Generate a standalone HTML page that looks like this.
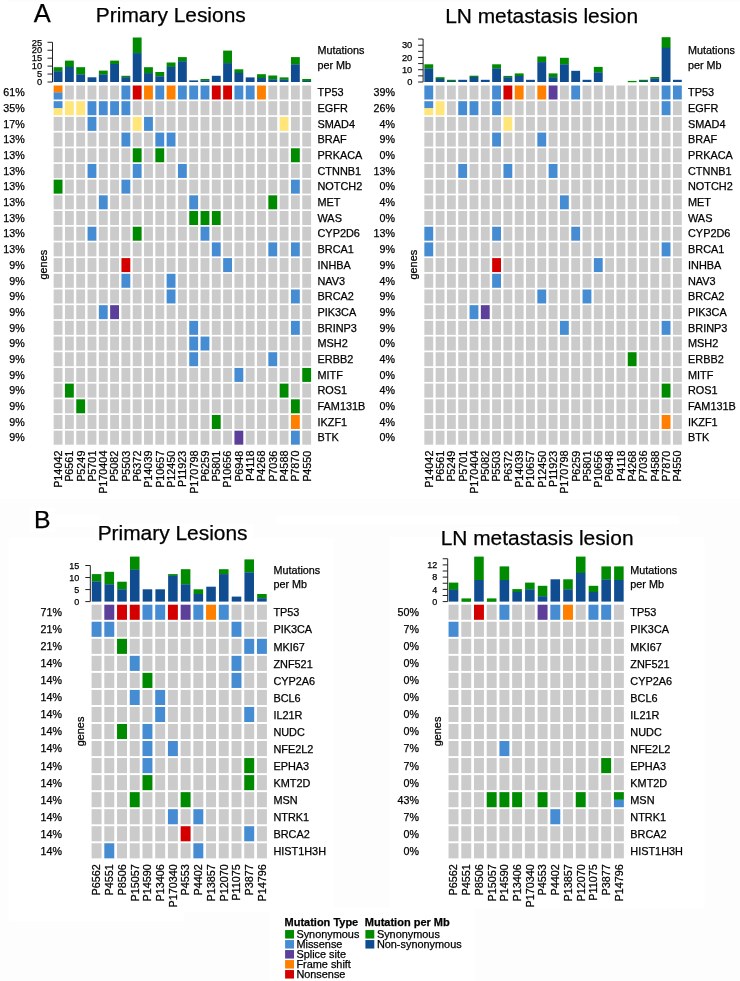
<!DOCTYPE html>
<html lang="en">
<head>
<meta charset="utf-8">
<title>Mutation landscape of primary lesions and LN metastasis lesions</title>
<style>
html,body{margin:0;padding:0;background:#fff;}
body{width:740px;height:981px;overflow:hidden;}
svg{display:block;font-family:"Liberation Sans",Arial,Helvetica,sans-serif;}
text{fill:#000;stroke:#000;stroke-width:0.25px;}
</style>
</head>
<body>
<svg width="740" height="981" viewBox="0 0 740 981">
<rect x="0" y="0" width="740" height="981" fill="#ffffff"/>
<g>
<rect x="0" y="499" width="740" height="482" fill="#fdfdfd"/>
<rect x="9" y="538" width="325" height="374" fill="#ffffff"/>
<rect x="8" y="0" width="732" height="1.5" fill="#fcfcfc"/>
<rect x="9" y="911" width="175" height="10" fill="#ffffff"/>
<rect x="390" y="537" width="314.5" height="371" fill="#ffffff"/>
<rect x="270" y="908" width="205" height="73" fill="#ffffff"/>
<rect x="276" y="515.5" width="403" height="8.5" fill="#ffffff"/>
<rect x="55" y="515" width="45" height="12" fill="#ffffff"/>
<rect x="95" y="524" width="158" height="22" fill="#ffffff"/>
<rect x="460" y="527" width="160" height="22" fill="#ffffff"/>
<rect x="30" y="508" width="25" height="24" fill="#ffffff"/>
</g>
<g>
<rect x="53.65" y="85.5" width="8.85" height="7.2" fill="#ff7f00"/>
<rect x="53.65" y="92.5" width="8.85" height="7" fill="#468cd2"/>
<rect x="64.95" y="85.5" width="8.85" height="14" fill="#cbcbcb"/>
<rect x="76.25" y="85.5" width="8.85" height="14" fill="#cbcbcb"/>
<rect x="87.55" y="85.5" width="8.85" height="14" fill="#cbcbcb"/>
<rect x="98.85" y="85.5" width="8.85" height="14" fill="#cbcbcb"/>
<rect x="110.15" y="85.5" width="8.85" height="14" fill="#cbcbcb"/>
<rect x="121.45" y="85.5" width="8.85" height="14" fill="#468cd2"/>
<rect x="132.75" y="85.5" width="8.85" height="14" fill="#d40000"/>
<rect x="144.05" y="85.5" width="8.85" height="14" fill="#ff7f00"/>
<rect x="155.35" y="85.5" width="8.85" height="14" fill="#468cd2"/>
<rect x="166.65" y="85.5" width="8.85" height="14" fill="#ff7f00"/>
<rect x="177.95" y="85.5" width="8.85" height="14" fill="#468cd2"/>
<rect x="189.25" y="85.5" width="8.85" height="14" fill="#468cd2"/>
<rect x="200.55" y="85.5" width="8.85" height="14" fill="#468cd2"/>
<rect x="211.85" y="85.5" width="8.85" height="14" fill="#d40000"/>
<rect x="223.15" y="85.5" width="8.85" height="14" fill="#d40000"/>
<rect x="234.45" y="85.5" width="8.85" height="14" fill="#468cd2"/>
<rect x="245.75" y="85.5" width="8.85" height="14" fill="#468cd2"/>
<rect x="257.05" y="85.5" width="8.85" height="14" fill="#ff7f00"/>
<rect x="268.35" y="85.5" width="8.85" height="14" fill="#cbcbcb"/>
<rect x="279.65" y="85.5" width="8.85" height="14" fill="#cbcbcb"/>
<rect x="290.95" y="85.5" width="8.85" height="14" fill="#cbcbcb"/>
<rect x="302.25" y="85.5" width="8.85" height="14" fill="#cbcbcb"/>
<rect x="53.65" y="101.19" width="8.85" height="7.2" fill="#468cd2"/>
<rect x="53.65" y="108.19" width="8.85" height="7" fill="#ffe57a"/>
<rect x="64.95" y="101.19" width="8.85" height="14" fill="#ffe57a"/>
<rect x="76.25" y="101.19" width="8.85" height="14" fill="#ffe57a"/>
<rect x="87.55" y="101.19" width="8.85" height="14" fill="#468cd2"/>
<rect x="98.85" y="101.19" width="8.85" height="14" fill="#468cd2"/>
<rect x="110.15" y="101.19" width="8.85" height="14" fill="#468cd2"/>
<rect x="121.45" y="101.19" width="8.85" height="14" fill="#468cd2"/>
<rect x="132.75" y="101.19" width="8.85" height="14" fill="#cbcbcb"/>
<rect x="144.05" y="101.19" width="8.85" height="14" fill="#cbcbcb"/>
<rect x="155.35" y="101.19" width="8.85" height="14" fill="#cbcbcb"/>
<rect x="166.65" y="101.19" width="8.85" height="14" fill="#cbcbcb"/>
<rect x="177.95" y="101.19" width="8.85" height="14" fill="#cbcbcb"/>
<rect x="189.25" y="101.19" width="8.85" height="14" fill="#cbcbcb"/>
<rect x="200.55" y="101.19" width="8.85" height="14" fill="#cbcbcb"/>
<rect x="211.85" y="101.19" width="8.85" height="14" fill="#cbcbcb"/>
<rect x="223.15" y="101.19" width="8.85" height="14" fill="#cbcbcb"/>
<rect x="234.45" y="101.19" width="8.85" height="14" fill="#cbcbcb"/>
<rect x="245.75" y="101.19" width="8.85" height="14" fill="#cbcbcb"/>
<rect x="257.05" y="101.19" width="8.85" height="14" fill="#cbcbcb"/>
<rect x="268.35" y="101.19" width="8.85" height="14" fill="#cbcbcb"/>
<rect x="279.65" y="101.19" width="8.85" height="14" fill="#cbcbcb"/>
<rect x="290.95" y="101.19" width="8.85" height="14" fill="#cbcbcb"/>
<rect x="302.25" y="101.19" width="8.85" height="14" fill="#cbcbcb"/>
<rect x="53.65" y="116.88" width="8.85" height="14" fill="#cbcbcb"/>
<rect x="64.95" y="116.88" width="8.85" height="14" fill="#cbcbcb"/>
<rect x="76.25" y="116.88" width="8.85" height="14" fill="#cbcbcb"/>
<rect x="87.55" y="116.88" width="8.85" height="14" fill="#468cd2"/>
<rect x="98.85" y="116.88" width="8.85" height="14" fill="#cbcbcb"/>
<rect x="110.15" y="116.88" width="8.85" height="14" fill="#cbcbcb"/>
<rect x="121.45" y="116.88" width="8.85" height="14" fill="#cbcbcb"/>
<rect x="132.75" y="116.88" width="8.85" height="14" fill="#ffe57a"/>
<rect x="144.05" y="116.88" width="8.85" height="14" fill="#468cd2"/>
<rect x="155.35" y="116.88" width="8.85" height="14" fill="#cbcbcb"/>
<rect x="166.65" y="116.88" width="8.85" height="14" fill="#cbcbcb"/>
<rect x="177.95" y="116.88" width="8.85" height="14" fill="#cbcbcb"/>
<rect x="189.25" y="116.88" width="8.85" height="14" fill="#cbcbcb"/>
<rect x="200.55" y="116.88" width="8.85" height="14" fill="#cbcbcb"/>
<rect x="211.85" y="116.88" width="8.85" height="14" fill="#cbcbcb"/>
<rect x="223.15" y="116.88" width="8.85" height="14" fill="#cbcbcb"/>
<rect x="234.45" y="116.88" width="8.85" height="14" fill="#cbcbcb"/>
<rect x="245.75" y="116.88" width="8.85" height="14" fill="#cbcbcb"/>
<rect x="257.05" y="116.88" width="8.85" height="14" fill="#cbcbcb"/>
<rect x="268.35" y="116.88" width="8.85" height="14" fill="#cbcbcb"/>
<rect x="279.65" y="116.88" width="8.85" height="14" fill="#ffe57a"/>
<rect x="290.95" y="116.88" width="8.85" height="14" fill="#cbcbcb"/>
<rect x="302.25" y="116.88" width="8.85" height="14" fill="#cbcbcb"/>
<rect x="53.65" y="132.57" width="8.85" height="14" fill="#cbcbcb"/>
<rect x="64.95" y="132.57" width="8.85" height="14" fill="#cbcbcb"/>
<rect x="76.25" y="132.57" width="8.85" height="14" fill="#cbcbcb"/>
<rect x="87.55" y="132.57" width="8.85" height="14" fill="#cbcbcb"/>
<rect x="98.85" y="132.57" width="8.85" height="14" fill="#cbcbcb"/>
<rect x="110.15" y="132.57" width="8.85" height="14" fill="#cbcbcb"/>
<rect x="121.45" y="132.57" width="8.85" height="14" fill="#468cd2"/>
<rect x="132.75" y="132.57" width="8.85" height="14" fill="#cbcbcb"/>
<rect x="144.05" y="132.57" width="8.85" height="14" fill="#cbcbcb"/>
<rect x="155.35" y="132.57" width="8.85" height="14" fill="#468cd2"/>
<rect x="166.65" y="132.57" width="8.85" height="14" fill="#468cd2"/>
<rect x="177.95" y="132.57" width="8.85" height="14" fill="#cbcbcb"/>
<rect x="189.25" y="132.57" width="8.85" height="14" fill="#cbcbcb"/>
<rect x="200.55" y="132.57" width="8.85" height="14" fill="#cbcbcb"/>
<rect x="211.85" y="132.57" width="8.85" height="14" fill="#cbcbcb"/>
<rect x="223.15" y="132.57" width="8.85" height="14" fill="#cbcbcb"/>
<rect x="234.45" y="132.57" width="8.85" height="14" fill="#cbcbcb"/>
<rect x="245.75" y="132.57" width="8.85" height="14" fill="#cbcbcb"/>
<rect x="257.05" y="132.57" width="8.85" height="14" fill="#cbcbcb"/>
<rect x="268.35" y="132.57" width="8.85" height="14" fill="#cbcbcb"/>
<rect x="279.65" y="132.57" width="8.85" height="14" fill="#cbcbcb"/>
<rect x="290.95" y="132.57" width="8.85" height="14" fill="#cbcbcb"/>
<rect x="302.25" y="132.57" width="8.85" height="14" fill="#cbcbcb"/>
<rect x="53.65" y="148.26" width="8.85" height="14" fill="#cbcbcb"/>
<rect x="64.95" y="148.26" width="8.85" height="14" fill="#cbcbcb"/>
<rect x="76.25" y="148.26" width="8.85" height="14" fill="#cbcbcb"/>
<rect x="87.55" y="148.26" width="8.85" height="14" fill="#cbcbcb"/>
<rect x="98.85" y="148.26" width="8.85" height="14" fill="#cbcbcb"/>
<rect x="110.15" y="148.26" width="8.85" height="14" fill="#cbcbcb"/>
<rect x="121.45" y="148.26" width="8.85" height="14" fill="#cbcbcb"/>
<rect x="132.75" y="148.26" width="8.85" height="14" fill="#008a00"/>
<rect x="144.05" y="148.26" width="8.85" height="14" fill="#cbcbcb"/>
<rect x="155.35" y="148.26" width="8.85" height="14" fill="#008a00"/>
<rect x="166.65" y="148.26" width="8.85" height="14" fill="#cbcbcb"/>
<rect x="177.95" y="148.26" width="8.85" height="14" fill="#cbcbcb"/>
<rect x="189.25" y="148.26" width="8.85" height="14" fill="#cbcbcb"/>
<rect x="200.55" y="148.26" width="8.85" height="14" fill="#cbcbcb"/>
<rect x="211.85" y="148.26" width="8.85" height="14" fill="#cbcbcb"/>
<rect x="223.15" y="148.26" width="8.85" height="14" fill="#cbcbcb"/>
<rect x="234.45" y="148.26" width="8.85" height="14" fill="#cbcbcb"/>
<rect x="245.75" y="148.26" width="8.85" height="14" fill="#cbcbcb"/>
<rect x="257.05" y="148.26" width="8.85" height="14" fill="#cbcbcb"/>
<rect x="268.35" y="148.26" width="8.85" height="14" fill="#cbcbcb"/>
<rect x="279.65" y="148.26" width="8.85" height="14" fill="#cbcbcb"/>
<rect x="290.95" y="148.26" width="8.85" height="14" fill="#008a00"/>
<rect x="302.25" y="148.26" width="8.85" height="14" fill="#cbcbcb"/>
<rect x="53.65" y="163.95" width="8.85" height="14" fill="#cbcbcb"/>
<rect x="64.95" y="163.95" width="8.85" height="14" fill="#cbcbcb"/>
<rect x="76.25" y="163.95" width="8.85" height="14" fill="#cbcbcb"/>
<rect x="87.55" y="163.95" width="8.85" height="14" fill="#468cd2"/>
<rect x="98.85" y="163.95" width="8.85" height="14" fill="#cbcbcb"/>
<rect x="110.15" y="163.95" width="8.85" height="14" fill="#cbcbcb"/>
<rect x="121.45" y="163.95" width="8.85" height="14" fill="#cbcbcb"/>
<rect x="132.75" y="163.95" width="8.85" height="14" fill="#468cd2"/>
<rect x="144.05" y="163.95" width="8.85" height="14" fill="#cbcbcb"/>
<rect x="155.35" y="163.95" width="8.85" height="14" fill="#cbcbcb"/>
<rect x="166.65" y="163.95" width="8.85" height="14" fill="#cbcbcb"/>
<rect x="177.95" y="163.95" width="8.85" height="14" fill="#468cd2"/>
<rect x="189.25" y="163.95" width="8.85" height="14" fill="#cbcbcb"/>
<rect x="200.55" y="163.95" width="8.85" height="14" fill="#cbcbcb"/>
<rect x="211.85" y="163.95" width="8.85" height="14" fill="#cbcbcb"/>
<rect x="223.15" y="163.95" width="8.85" height="14" fill="#cbcbcb"/>
<rect x="234.45" y="163.95" width="8.85" height="14" fill="#cbcbcb"/>
<rect x="245.75" y="163.95" width="8.85" height="14" fill="#cbcbcb"/>
<rect x="257.05" y="163.95" width="8.85" height="14" fill="#cbcbcb"/>
<rect x="268.35" y="163.95" width="8.85" height="14" fill="#cbcbcb"/>
<rect x="279.65" y="163.95" width="8.85" height="14" fill="#cbcbcb"/>
<rect x="290.95" y="163.95" width="8.85" height="14" fill="#cbcbcb"/>
<rect x="302.25" y="163.95" width="8.85" height="14" fill="#cbcbcb"/>
<rect x="53.65" y="179.64" width="8.85" height="14" fill="#008a00"/>
<rect x="64.95" y="179.64" width="8.85" height="14" fill="#cbcbcb"/>
<rect x="76.25" y="179.64" width="8.85" height="14" fill="#cbcbcb"/>
<rect x="87.55" y="179.64" width="8.85" height="14" fill="#cbcbcb"/>
<rect x="98.85" y="179.64" width="8.85" height="14" fill="#cbcbcb"/>
<rect x="110.15" y="179.64" width="8.85" height="14" fill="#cbcbcb"/>
<rect x="121.45" y="179.64" width="8.85" height="14" fill="#468cd2"/>
<rect x="132.75" y="179.64" width="8.85" height="14" fill="#cbcbcb"/>
<rect x="144.05" y="179.64" width="8.85" height="14" fill="#cbcbcb"/>
<rect x="155.35" y="179.64" width="8.85" height="14" fill="#cbcbcb"/>
<rect x="166.65" y="179.64" width="8.85" height="14" fill="#cbcbcb"/>
<rect x="177.95" y="179.64" width="8.85" height="14" fill="#cbcbcb"/>
<rect x="189.25" y="179.64" width="8.85" height="14" fill="#cbcbcb"/>
<rect x="200.55" y="179.64" width="8.85" height="14" fill="#cbcbcb"/>
<rect x="211.85" y="179.64" width="8.85" height="14" fill="#cbcbcb"/>
<rect x="223.15" y="179.64" width="8.85" height="14" fill="#cbcbcb"/>
<rect x="234.45" y="179.64" width="8.85" height="14" fill="#cbcbcb"/>
<rect x="245.75" y="179.64" width="8.85" height="14" fill="#cbcbcb"/>
<rect x="257.05" y="179.64" width="8.85" height="14" fill="#cbcbcb"/>
<rect x="268.35" y="179.64" width="8.85" height="14" fill="#cbcbcb"/>
<rect x="279.65" y="179.64" width="8.85" height="14" fill="#cbcbcb"/>
<rect x="290.95" y="179.64" width="8.85" height="14" fill="#468cd2"/>
<rect x="302.25" y="179.64" width="8.85" height="14" fill="#cbcbcb"/>
<rect x="53.65" y="195.33" width="8.85" height="14" fill="#cbcbcb"/>
<rect x="64.95" y="195.33" width="8.85" height="14" fill="#cbcbcb"/>
<rect x="76.25" y="195.33" width="8.85" height="14" fill="#cbcbcb"/>
<rect x="87.55" y="195.33" width="8.85" height="14" fill="#cbcbcb"/>
<rect x="98.85" y="195.33" width="8.85" height="14" fill="#468cd2"/>
<rect x="110.15" y="195.33" width="8.85" height="14" fill="#cbcbcb"/>
<rect x="121.45" y="195.33" width="8.85" height="14" fill="#cbcbcb"/>
<rect x="132.75" y="195.33" width="8.85" height="14" fill="#cbcbcb"/>
<rect x="144.05" y="195.33" width="8.85" height="14" fill="#cbcbcb"/>
<rect x="155.35" y="195.33" width="8.85" height="14" fill="#cbcbcb"/>
<rect x="166.65" y="195.33" width="8.85" height="14" fill="#cbcbcb"/>
<rect x="177.95" y="195.33" width="8.85" height="14" fill="#cbcbcb"/>
<rect x="189.25" y="195.33" width="8.85" height="14" fill="#468cd2"/>
<rect x="200.55" y="195.33" width="8.85" height="14" fill="#cbcbcb"/>
<rect x="211.85" y="195.33" width="8.85" height="14" fill="#cbcbcb"/>
<rect x="223.15" y="195.33" width="8.85" height="14" fill="#cbcbcb"/>
<rect x="234.45" y="195.33" width="8.85" height="14" fill="#cbcbcb"/>
<rect x="245.75" y="195.33" width="8.85" height="14" fill="#cbcbcb"/>
<rect x="257.05" y="195.33" width="8.85" height="14" fill="#cbcbcb"/>
<rect x="268.35" y="195.33" width="8.85" height="14" fill="#008a00"/>
<rect x="279.65" y="195.33" width="8.85" height="14" fill="#cbcbcb"/>
<rect x="290.95" y="195.33" width="8.85" height="14" fill="#cbcbcb"/>
<rect x="302.25" y="195.33" width="8.85" height="14" fill="#cbcbcb"/>
<rect x="53.65" y="211.02" width="8.85" height="14" fill="#cbcbcb"/>
<rect x="64.95" y="211.02" width="8.85" height="14" fill="#cbcbcb"/>
<rect x="76.25" y="211.02" width="8.85" height="14" fill="#cbcbcb"/>
<rect x="87.55" y="211.02" width="8.85" height="14" fill="#cbcbcb"/>
<rect x="98.85" y="211.02" width="8.85" height="14" fill="#cbcbcb"/>
<rect x="110.15" y="211.02" width="8.85" height="14" fill="#cbcbcb"/>
<rect x="121.45" y="211.02" width="8.85" height="14" fill="#cbcbcb"/>
<rect x="132.75" y="211.02" width="8.85" height="14" fill="#cbcbcb"/>
<rect x="144.05" y="211.02" width="8.85" height="14" fill="#cbcbcb"/>
<rect x="155.35" y="211.02" width="8.85" height="14" fill="#cbcbcb"/>
<rect x="166.65" y="211.02" width="8.85" height="14" fill="#cbcbcb"/>
<rect x="177.95" y="211.02" width="8.85" height="14" fill="#cbcbcb"/>
<rect x="189.25" y="211.02" width="8.85" height="14" fill="#008a00"/>
<rect x="200.55" y="211.02" width="8.85" height="14" fill="#008a00"/>
<rect x="211.85" y="211.02" width="8.85" height="14" fill="#008a00"/>
<rect x="223.15" y="211.02" width="8.85" height="14" fill="#cbcbcb"/>
<rect x="234.45" y="211.02" width="8.85" height="14" fill="#cbcbcb"/>
<rect x="245.75" y="211.02" width="8.85" height="14" fill="#cbcbcb"/>
<rect x="257.05" y="211.02" width="8.85" height="14" fill="#cbcbcb"/>
<rect x="268.35" y="211.02" width="8.85" height="14" fill="#cbcbcb"/>
<rect x="279.65" y="211.02" width="8.85" height="14" fill="#cbcbcb"/>
<rect x="290.95" y="211.02" width="8.85" height="14" fill="#cbcbcb"/>
<rect x="302.25" y="211.02" width="8.85" height="14" fill="#cbcbcb"/>
<rect x="53.65" y="226.71" width="8.85" height="14" fill="#cbcbcb"/>
<rect x="64.95" y="226.71" width="8.85" height="14" fill="#cbcbcb"/>
<rect x="76.25" y="226.71" width="8.85" height="14" fill="#cbcbcb"/>
<rect x="87.55" y="226.71" width="8.85" height="14" fill="#468cd2"/>
<rect x="98.85" y="226.71" width="8.85" height="14" fill="#cbcbcb"/>
<rect x="110.15" y="226.71" width="8.85" height="14" fill="#cbcbcb"/>
<rect x="121.45" y="226.71" width="8.85" height="14" fill="#cbcbcb"/>
<rect x="132.75" y="226.71" width="8.85" height="14" fill="#008a00"/>
<rect x="144.05" y="226.71" width="8.85" height="14" fill="#cbcbcb"/>
<rect x="155.35" y="226.71" width="8.85" height="14" fill="#cbcbcb"/>
<rect x="166.65" y="226.71" width="8.85" height="14" fill="#cbcbcb"/>
<rect x="177.95" y="226.71" width="8.85" height="14" fill="#cbcbcb"/>
<rect x="189.25" y="226.71" width="8.85" height="14" fill="#cbcbcb"/>
<rect x="200.55" y="226.71" width="8.85" height="14" fill="#468cd2"/>
<rect x="211.85" y="226.71" width="8.85" height="14" fill="#cbcbcb"/>
<rect x="223.15" y="226.71" width="8.85" height="14" fill="#cbcbcb"/>
<rect x="234.45" y="226.71" width="8.85" height="14" fill="#cbcbcb"/>
<rect x="245.75" y="226.71" width="8.85" height="14" fill="#cbcbcb"/>
<rect x="257.05" y="226.71" width="8.85" height="14" fill="#cbcbcb"/>
<rect x="268.35" y="226.71" width="8.85" height="14" fill="#cbcbcb"/>
<rect x="279.65" y="226.71" width="8.85" height="14" fill="#cbcbcb"/>
<rect x="290.95" y="226.71" width="8.85" height="14" fill="#cbcbcb"/>
<rect x="302.25" y="226.71" width="8.85" height="14" fill="#cbcbcb"/>
<rect x="53.65" y="242.4" width="8.85" height="14" fill="#cbcbcb"/>
<rect x="64.95" y="242.4" width="8.85" height="14" fill="#cbcbcb"/>
<rect x="76.25" y="242.4" width="8.85" height="14" fill="#cbcbcb"/>
<rect x="87.55" y="242.4" width="8.85" height="14" fill="#cbcbcb"/>
<rect x="98.85" y="242.4" width="8.85" height="14" fill="#cbcbcb"/>
<rect x="110.15" y="242.4" width="8.85" height="14" fill="#cbcbcb"/>
<rect x="121.45" y="242.4" width="8.85" height="14" fill="#cbcbcb"/>
<rect x="132.75" y="242.4" width="8.85" height="14" fill="#cbcbcb"/>
<rect x="144.05" y="242.4" width="8.85" height="14" fill="#cbcbcb"/>
<rect x="155.35" y="242.4" width="8.85" height="14" fill="#cbcbcb"/>
<rect x="166.65" y="242.4" width="8.85" height="14" fill="#cbcbcb"/>
<rect x="177.95" y="242.4" width="8.85" height="14" fill="#cbcbcb"/>
<rect x="189.25" y="242.4" width="8.85" height="14" fill="#cbcbcb"/>
<rect x="200.55" y="242.4" width="8.85" height="14" fill="#cbcbcb"/>
<rect x="211.85" y="242.4" width="8.85" height="14" fill="#468cd2"/>
<rect x="223.15" y="242.4" width="8.85" height="14" fill="#cbcbcb"/>
<rect x="234.45" y="242.4" width="8.85" height="14" fill="#cbcbcb"/>
<rect x="245.75" y="242.4" width="8.85" height="14" fill="#cbcbcb"/>
<rect x="257.05" y="242.4" width="8.85" height="14" fill="#cbcbcb"/>
<rect x="268.35" y="242.4" width="8.85" height="14" fill="#468cd2"/>
<rect x="279.65" y="242.4" width="8.85" height="14" fill="#cbcbcb"/>
<rect x="290.95" y="242.4" width="8.85" height="14" fill="#468cd2"/>
<rect x="302.25" y="242.4" width="8.85" height="14" fill="#cbcbcb"/>
<rect x="53.65" y="258.09" width="8.85" height="14" fill="#cbcbcb"/>
<rect x="64.95" y="258.09" width="8.85" height="14" fill="#cbcbcb"/>
<rect x="76.25" y="258.09" width="8.85" height="14" fill="#cbcbcb"/>
<rect x="87.55" y="258.09" width="8.85" height="14" fill="#cbcbcb"/>
<rect x="98.85" y="258.09" width="8.85" height="14" fill="#cbcbcb"/>
<rect x="110.15" y="258.09" width="8.85" height="14" fill="#cbcbcb"/>
<rect x="121.45" y="258.09" width="8.85" height="14" fill="#d40000"/>
<rect x="132.75" y="258.09" width="8.85" height="14" fill="#cbcbcb"/>
<rect x="144.05" y="258.09" width="8.85" height="14" fill="#cbcbcb"/>
<rect x="155.35" y="258.09" width="8.85" height="14" fill="#cbcbcb"/>
<rect x="166.65" y="258.09" width="8.85" height="14" fill="#cbcbcb"/>
<rect x="177.95" y="258.09" width="8.85" height="14" fill="#cbcbcb"/>
<rect x="189.25" y="258.09" width="8.85" height="14" fill="#cbcbcb"/>
<rect x="200.55" y="258.09" width="8.85" height="14" fill="#cbcbcb"/>
<rect x="211.85" y="258.09" width="8.85" height="14" fill="#cbcbcb"/>
<rect x="223.15" y="258.09" width="8.85" height="14" fill="#468cd2"/>
<rect x="234.45" y="258.09" width="8.85" height="14" fill="#cbcbcb"/>
<rect x="245.75" y="258.09" width="8.85" height="14" fill="#cbcbcb"/>
<rect x="257.05" y="258.09" width="8.85" height="14" fill="#cbcbcb"/>
<rect x="268.35" y="258.09" width="8.85" height="14" fill="#cbcbcb"/>
<rect x="279.65" y="258.09" width="8.85" height="14" fill="#cbcbcb"/>
<rect x="290.95" y="258.09" width="8.85" height="14" fill="#cbcbcb"/>
<rect x="302.25" y="258.09" width="8.85" height="14" fill="#cbcbcb"/>
<rect x="53.65" y="273.78" width="8.85" height="14" fill="#cbcbcb"/>
<rect x="64.95" y="273.78" width="8.85" height="14" fill="#cbcbcb"/>
<rect x="76.25" y="273.78" width="8.85" height="14" fill="#cbcbcb"/>
<rect x="87.55" y="273.78" width="8.85" height="14" fill="#cbcbcb"/>
<rect x="98.85" y="273.78" width="8.85" height="14" fill="#cbcbcb"/>
<rect x="110.15" y="273.78" width="8.85" height="14" fill="#cbcbcb"/>
<rect x="121.45" y="273.78" width="8.85" height="14" fill="#468cd2"/>
<rect x="132.75" y="273.78" width="8.85" height="14" fill="#cbcbcb"/>
<rect x="144.05" y="273.78" width="8.85" height="14" fill="#cbcbcb"/>
<rect x="155.35" y="273.78" width="8.85" height="14" fill="#cbcbcb"/>
<rect x="166.65" y="273.78" width="8.85" height="14" fill="#468cd2"/>
<rect x="177.95" y="273.78" width="8.85" height="14" fill="#cbcbcb"/>
<rect x="189.25" y="273.78" width="8.85" height="14" fill="#cbcbcb"/>
<rect x="200.55" y="273.78" width="8.85" height="14" fill="#cbcbcb"/>
<rect x="211.85" y="273.78" width="8.85" height="14" fill="#cbcbcb"/>
<rect x="223.15" y="273.78" width="8.85" height="14" fill="#cbcbcb"/>
<rect x="234.45" y="273.78" width="8.85" height="14" fill="#cbcbcb"/>
<rect x="245.75" y="273.78" width="8.85" height="14" fill="#cbcbcb"/>
<rect x="257.05" y="273.78" width="8.85" height="14" fill="#cbcbcb"/>
<rect x="268.35" y="273.78" width="8.85" height="14" fill="#cbcbcb"/>
<rect x="279.65" y="273.78" width="8.85" height="14" fill="#cbcbcb"/>
<rect x="290.95" y="273.78" width="8.85" height="14" fill="#cbcbcb"/>
<rect x="302.25" y="273.78" width="8.85" height="14" fill="#cbcbcb"/>
<rect x="53.65" y="289.47" width="8.85" height="14" fill="#cbcbcb"/>
<rect x="64.95" y="289.47" width="8.85" height="14" fill="#cbcbcb"/>
<rect x="76.25" y="289.47" width="8.85" height="14" fill="#cbcbcb"/>
<rect x="87.55" y="289.47" width="8.85" height="14" fill="#cbcbcb"/>
<rect x="98.85" y="289.47" width="8.85" height="14" fill="#cbcbcb"/>
<rect x="110.15" y="289.47" width="8.85" height="14" fill="#cbcbcb"/>
<rect x="121.45" y="289.47" width="8.85" height="14" fill="#cbcbcb"/>
<rect x="132.75" y="289.47" width="8.85" height="14" fill="#cbcbcb"/>
<rect x="144.05" y="289.47" width="8.85" height="14" fill="#cbcbcb"/>
<rect x="155.35" y="289.47" width="8.85" height="14" fill="#cbcbcb"/>
<rect x="166.65" y="289.47" width="8.85" height="14" fill="#468cd2"/>
<rect x="177.95" y="289.47" width="8.85" height="14" fill="#cbcbcb"/>
<rect x="189.25" y="289.47" width="8.85" height="14" fill="#cbcbcb"/>
<rect x="200.55" y="289.47" width="8.85" height="14" fill="#cbcbcb"/>
<rect x="211.85" y="289.47" width="8.85" height="14" fill="#cbcbcb"/>
<rect x="223.15" y="289.47" width="8.85" height="14" fill="#cbcbcb"/>
<rect x="234.45" y="289.47" width="8.85" height="14" fill="#cbcbcb"/>
<rect x="245.75" y="289.47" width="8.85" height="14" fill="#cbcbcb"/>
<rect x="257.05" y="289.47" width="8.85" height="14" fill="#cbcbcb"/>
<rect x="268.35" y="289.47" width="8.85" height="14" fill="#cbcbcb"/>
<rect x="279.65" y="289.47" width="8.85" height="14" fill="#cbcbcb"/>
<rect x="290.95" y="289.47" width="8.85" height="14" fill="#468cd2"/>
<rect x="302.25" y="289.47" width="8.85" height="14" fill="#cbcbcb"/>
<rect x="53.65" y="305.16" width="8.85" height="14" fill="#cbcbcb"/>
<rect x="64.95" y="305.16" width="8.85" height="14" fill="#cbcbcb"/>
<rect x="76.25" y="305.16" width="8.85" height="14" fill="#cbcbcb"/>
<rect x="87.55" y="305.16" width="8.85" height="14" fill="#cbcbcb"/>
<rect x="98.85" y="305.16" width="8.85" height="14" fill="#468cd2"/>
<rect x="110.15" y="305.16" width="8.85" height="14" fill="#5b3f99"/>
<rect x="121.45" y="305.16" width="8.85" height="14" fill="#cbcbcb"/>
<rect x="132.75" y="305.16" width="8.85" height="14" fill="#cbcbcb"/>
<rect x="144.05" y="305.16" width="8.85" height="14" fill="#cbcbcb"/>
<rect x="155.35" y="305.16" width="8.85" height="14" fill="#cbcbcb"/>
<rect x="166.65" y="305.16" width="8.85" height="14" fill="#cbcbcb"/>
<rect x="177.95" y="305.16" width="8.85" height="14" fill="#cbcbcb"/>
<rect x="189.25" y="305.16" width="8.85" height="14" fill="#cbcbcb"/>
<rect x="200.55" y="305.16" width="8.85" height="14" fill="#cbcbcb"/>
<rect x="211.85" y="305.16" width="8.85" height="14" fill="#cbcbcb"/>
<rect x="223.15" y="305.16" width="8.85" height="14" fill="#cbcbcb"/>
<rect x="234.45" y="305.16" width="8.85" height="14" fill="#cbcbcb"/>
<rect x="245.75" y="305.16" width="8.85" height="14" fill="#cbcbcb"/>
<rect x="257.05" y="305.16" width="8.85" height="14" fill="#cbcbcb"/>
<rect x="268.35" y="305.16" width="8.85" height="14" fill="#cbcbcb"/>
<rect x="279.65" y="305.16" width="8.85" height="14" fill="#cbcbcb"/>
<rect x="290.95" y="305.16" width="8.85" height="14" fill="#cbcbcb"/>
<rect x="302.25" y="305.16" width="8.85" height="14" fill="#cbcbcb"/>
<rect x="53.65" y="320.85" width="8.85" height="14" fill="#cbcbcb"/>
<rect x="64.95" y="320.85" width="8.85" height="14" fill="#cbcbcb"/>
<rect x="76.25" y="320.85" width="8.85" height="14" fill="#cbcbcb"/>
<rect x="87.55" y="320.85" width="8.85" height="14" fill="#cbcbcb"/>
<rect x="98.85" y="320.85" width="8.85" height="14" fill="#cbcbcb"/>
<rect x="110.15" y="320.85" width="8.85" height="14" fill="#cbcbcb"/>
<rect x="121.45" y="320.85" width="8.85" height="14" fill="#cbcbcb"/>
<rect x="132.75" y="320.85" width="8.85" height="14" fill="#cbcbcb"/>
<rect x="144.05" y="320.85" width="8.85" height="14" fill="#cbcbcb"/>
<rect x="155.35" y="320.85" width="8.85" height="14" fill="#cbcbcb"/>
<rect x="166.65" y="320.85" width="8.85" height="14" fill="#cbcbcb"/>
<rect x="177.95" y="320.85" width="8.85" height="14" fill="#cbcbcb"/>
<rect x="189.25" y="320.85" width="8.85" height="14" fill="#468cd2"/>
<rect x="200.55" y="320.85" width="8.85" height="14" fill="#cbcbcb"/>
<rect x="211.85" y="320.85" width="8.85" height="14" fill="#cbcbcb"/>
<rect x="223.15" y="320.85" width="8.85" height="14" fill="#cbcbcb"/>
<rect x="234.45" y="320.85" width="8.85" height="14" fill="#cbcbcb"/>
<rect x="245.75" y="320.85" width="8.85" height="14" fill="#cbcbcb"/>
<rect x="257.05" y="320.85" width="8.85" height="14" fill="#cbcbcb"/>
<rect x="268.35" y="320.85" width="8.85" height="14" fill="#cbcbcb"/>
<rect x="279.65" y="320.85" width="8.85" height="14" fill="#cbcbcb"/>
<rect x="290.95" y="320.85" width="8.85" height="14" fill="#468cd2"/>
<rect x="302.25" y="320.85" width="8.85" height="14" fill="#cbcbcb"/>
<rect x="53.65" y="336.54" width="8.85" height="14" fill="#cbcbcb"/>
<rect x="64.95" y="336.54" width="8.85" height="14" fill="#cbcbcb"/>
<rect x="76.25" y="336.54" width="8.85" height="14" fill="#cbcbcb"/>
<rect x="87.55" y="336.54" width="8.85" height="14" fill="#cbcbcb"/>
<rect x="98.85" y="336.54" width="8.85" height="14" fill="#cbcbcb"/>
<rect x="110.15" y="336.54" width="8.85" height="14" fill="#cbcbcb"/>
<rect x="121.45" y="336.54" width="8.85" height="14" fill="#cbcbcb"/>
<rect x="132.75" y="336.54" width="8.85" height="14" fill="#cbcbcb"/>
<rect x="144.05" y="336.54" width="8.85" height="14" fill="#cbcbcb"/>
<rect x="155.35" y="336.54" width="8.85" height="14" fill="#cbcbcb"/>
<rect x="166.65" y="336.54" width="8.85" height="14" fill="#cbcbcb"/>
<rect x="177.95" y="336.54" width="8.85" height="14" fill="#cbcbcb"/>
<rect x="189.25" y="336.54" width="8.85" height="14" fill="#468cd2"/>
<rect x="200.55" y="336.54" width="8.85" height="14" fill="#468cd2"/>
<rect x="211.85" y="336.54" width="8.85" height="14" fill="#cbcbcb"/>
<rect x="223.15" y="336.54" width="8.85" height="14" fill="#cbcbcb"/>
<rect x="234.45" y="336.54" width="8.85" height="14" fill="#cbcbcb"/>
<rect x="245.75" y="336.54" width="8.85" height="14" fill="#cbcbcb"/>
<rect x="257.05" y="336.54" width="8.85" height="14" fill="#cbcbcb"/>
<rect x="268.35" y="336.54" width="8.85" height="14" fill="#cbcbcb"/>
<rect x="279.65" y="336.54" width="8.85" height="14" fill="#cbcbcb"/>
<rect x="290.95" y="336.54" width="8.85" height="14" fill="#cbcbcb"/>
<rect x="302.25" y="336.54" width="8.85" height="14" fill="#cbcbcb"/>
<rect x="53.65" y="352.23" width="8.85" height="14" fill="#cbcbcb"/>
<rect x="64.95" y="352.23" width="8.85" height="14" fill="#cbcbcb"/>
<rect x="76.25" y="352.23" width="8.85" height="14" fill="#cbcbcb"/>
<rect x="87.55" y="352.23" width="8.85" height="14" fill="#cbcbcb"/>
<rect x="98.85" y="352.23" width="8.85" height="14" fill="#cbcbcb"/>
<rect x="110.15" y="352.23" width="8.85" height="14" fill="#cbcbcb"/>
<rect x="121.45" y="352.23" width="8.85" height="14" fill="#cbcbcb"/>
<rect x="132.75" y="352.23" width="8.85" height="14" fill="#cbcbcb"/>
<rect x="144.05" y="352.23" width="8.85" height="14" fill="#cbcbcb"/>
<rect x="155.35" y="352.23" width="8.85" height="14" fill="#cbcbcb"/>
<rect x="166.65" y="352.23" width="8.85" height="14" fill="#cbcbcb"/>
<rect x="177.95" y="352.23" width="8.85" height="14" fill="#cbcbcb"/>
<rect x="189.25" y="352.23" width="8.85" height="14" fill="#468cd2"/>
<rect x="200.55" y="352.23" width="8.85" height="14" fill="#cbcbcb"/>
<rect x="211.85" y="352.23" width="8.85" height="14" fill="#cbcbcb"/>
<rect x="223.15" y="352.23" width="8.85" height="14" fill="#cbcbcb"/>
<rect x="234.45" y="352.23" width="8.85" height="14" fill="#cbcbcb"/>
<rect x="245.75" y="352.23" width="8.85" height="14" fill="#cbcbcb"/>
<rect x="257.05" y="352.23" width="8.85" height="14" fill="#cbcbcb"/>
<rect x="268.35" y="352.23" width="8.85" height="14" fill="#468cd2"/>
<rect x="279.65" y="352.23" width="8.85" height="14" fill="#cbcbcb"/>
<rect x="290.95" y="352.23" width="8.85" height="14" fill="#cbcbcb"/>
<rect x="302.25" y="352.23" width="8.85" height="14" fill="#cbcbcb"/>
<rect x="53.65" y="367.92" width="8.85" height="14" fill="#cbcbcb"/>
<rect x="64.95" y="367.92" width="8.85" height="14" fill="#cbcbcb"/>
<rect x="76.25" y="367.92" width="8.85" height="14" fill="#cbcbcb"/>
<rect x="87.55" y="367.92" width="8.85" height="14" fill="#cbcbcb"/>
<rect x="98.85" y="367.92" width="8.85" height="14" fill="#cbcbcb"/>
<rect x="110.15" y="367.92" width="8.85" height="14" fill="#cbcbcb"/>
<rect x="121.45" y="367.92" width="8.85" height="14" fill="#cbcbcb"/>
<rect x="132.75" y="367.92" width="8.85" height="14" fill="#cbcbcb"/>
<rect x="144.05" y="367.92" width="8.85" height="14" fill="#cbcbcb"/>
<rect x="155.35" y="367.92" width="8.85" height="14" fill="#cbcbcb"/>
<rect x="166.65" y="367.92" width="8.85" height="14" fill="#cbcbcb"/>
<rect x="177.95" y="367.92" width="8.85" height="14" fill="#cbcbcb"/>
<rect x="189.25" y="367.92" width="8.85" height="14" fill="#cbcbcb"/>
<rect x="200.55" y="367.92" width="8.85" height="14" fill="#cbcbcb"/>
<rect x="211.85" y="367.92" width="8.85" height="14" fill="#cbcbcb"/>
<rect x="223.15" y="367.92" width="8.85" height="14" fill="#cbcbcb"/>
<rect x="234.45" y="367.92" width="8.85" height="14" fill="#468cd2"/>
<rect x="245.75" y="367.92" width="8.85" height="14" fill="#cbcbcb"/>
<rect x="257.05" y="367.92" width="8.85" height="14" fill="#cbcbcb"/>
<rect x="268.35" y="367.92" width="8.85" height="14" fill="#cbcbcb"/>
<rect x="279.65" y="367.92" width="8.85" height="14" fill="#cbcbcb"/>
<rect x="290.95" y="367.92" width="8.85" height="14" fill="#cbcbcb"/>
<rect x="302.25" y="367.92" width="8.85" height="14" fill="#008a00"/>
<rect x="53.65" y="383.61" width="8.85" height="14" fill="#cbcbcb"/>
<rect x="64.95" y="383.61" width="8.85" height="14" fill="#008a00"/>
<rect x="76.25" y="383.61" width="8.85" height="14" fill="#cbcbcb"/>
<rect x="87.55" y="383.61" width="8.85" height="14" fill="#cbcbcb"/>
<rect x="98.85" y="383.61" width="8.85" height="14" fill="#cbcbcb"/>
<rect x="110.15" y="383.61" width="8.85" height="14" fill="#cbcbcb"/>
<rect x="121.45" y="383.61" width="8.85" height="14" fill="#cbcbcb"/>
<rect x="132.75" y="383.61" width="8.85" height="14" fill="#cbcbcb"/>
<rect x="144.05" y="383.61" width="8.85" height="14" fill="#cbcbcb"/>
<rect x="155.35" y="383.61" width="8.85" height="14" fill="#cbcbcb"/>
<rect x="166.65" y="383.61" width="8.85" height="14" fill="#cbcbcb"/>
<rect x="177.95" y="383.61" width="8.85" height="14" fill="#cbcbcb"/>
<rect x="189.25" y="383.61" width="8.85" height="14" fill="#cbcbcb"/>
<rect x="200.55" y="383.61" width="8.85" height="14" fill="#cbcbcb"/>
<rect x="211.85" y="383.61" width="8.85" height="14" fill="#cbcbcb"/>
<rect x="223.15" y="383.61" width="8.85" height="14" fill="#cbcbcb"/>
<rect x="234.45" y="383.61" width="8.85" height="14" fill="#cbcbcb"/>
<rect x="245.75" y="383.61" width="8.85" height="14" fill="#cbcbcb"/>
<rect x="257.05" y="383.61" width="8.85" height="14" fill="#cbcbcb"/>
<rect x="268.35" y="383.61" width="8.85" height="14" fill="#cbcbcb"/>
<rect x="279.65" y="383.61" width="8.85" height="14" fill="#008a00"/>
<rect x="290.95" y="383.61" width="8.85" height="14" fill="#cbcbcb"/>
<rect x="302.25" y="383.61" width="8.85" height="14" fill="#cbcbcb"/>
<rect x="53.65" y="399.3" width="8.85" height="14" fill="#cbcbcb"/>
<rect x="64.95" y="399.3" width="8.85" height="14" fill="#cbcbcb"/>
<rect x="76.25" y="399.3" width="8.85" height="14" fill="#008a00"/>
<rect x="87.55" y="399.3" width="8.85" height="14" fill="#cbcbcb"/>
<rect x="98.85" y="399.3" width="8.85" height="14" fill="#cbcbcb"/>
<rect x="110.15" y="399.3" width="8.85" height="14" fill="#cbcbcb"/>
<rect x="121.45" y="399.3" width="8.85" height="14" fill="#cbcbcb"/>
<rect x="132.75" y="399.3" width="8.85" height="14" fill="#cbcbcb"/>
<rect x="144.05" y="399.3" width="8.85" height="14" fill="#cbcbcb"/>
<rect x="155.35" y="399.3" width="8.85" height="14" fill="#cbcbcb"/>
<rect x="166.65" y="399.3" width="8.85" height="14" fill="#cbcbcb"/>
<rect x="177.95" y="399.3" width="8.85" height="14" fill="#cbcbcb"/>
<rect x="189.25" y="399.3" width="8.85" height="14" fill="#cbcbcb"/>
<rect x="200.55" y="399.3" width="8.85" height="14" fill="#cbcbcb"/>
<rect x="211.85" y="399.3" width="8.85" height="14" fill="#cbcbcb"/>
<rect x="223.15" y="399.3" width="8.85" height="14" fill="#cbcbcb"/>
<rect x="234.45" y="399.3" width="8.85" height="14" fill="#cbcbcb"/>
<rect x="245.75" y="399.3" width="8.85" height="14" fill="#cbcbcb"/>
<rect x="257.05" y="399.3" width="8.85" height="14" fill="#cbcbcb"/>
<rect x="268.35" y="399.3" width="8.85" height="14" fill="#cbcbcb"/>
<rect x="279.65" y="399.3" width="8.85" height="14" fill="#cbcbcb"/>
<rect x="290.95" y="399.3" width="8.85" height="14" fill="#008a00"/>
<rect x="302.25" y="399.3" width="8.85" height="14" fill="#cbcbcb"/>
<rect x="53.65" y="414.99" width="8.85" height="14" fill="#cbcbcb"/>
<rect x="64.95" y="414.99" width="8.85" height="14" fill="#cbcbcb"/>
<rect x="76.25" y="414.99" width="8.85" height="14" fill="#cbcbcb"/>
<rect x="87.55" y="414.99" width="8.85" height="14" fill="#cbcbcb"/>
<rect x="98.85" y="414.99" width="8.85" height="14" fill="#cbcbcb"/>
<rect x="110.15" y="414.99" width="8.85" height="14" fill="#cbcbcb"/>
<rect x="121.45" y="414.99" width="8.85" height="14" fill="#cbcbcb"/>
<rect x="132.75" y="414.99" width="8.85" height="14" fill="#cbcbcb"/>
<rect x="144.05" y="414.99" width="8.85" height="14" fill="#cbcbcb"/>
<rect x="155.35" y="414.99" width="8.85" height="14" fill="#cbcbcb"/>
<rect x="166.65" y="414.99" width="8.85" height="14" fill="#cbcbcb"/>
<rect x="177.95" y="414.99" width="8.85" height="14" fill="#cbcbcb"/>
<rect x="189.25" y="414.99" width="8.85" height="14" fill="#cbcbcb"/>
<rect x="200.55" y="414.99" width="8.85" height="14" fill="#cbcbcb"/>
<rect x="211.85" y="414.99" width="8.85" height="14" fill="#008a00"/>
<rect x="223.15" y="414.99" width="8.85" height="14" fill="#cbcbcb"/>
<rect x="234.45" y="414.99" width="8.85" height="14" fill="#cbcbcb"/>
<rect x="245.75" y="414.99" width="8.85" height="14" fill="#cbcbcb"/>
<rect x="257.05" y="414.99" width="8.85" height="14" fill="#cbcbcb"/>
<rect x="268.35" y="414.99" width="8.85" height="14" fill="#cbcbcb"/>
<rect x="279.65" y="414.99" width="8.85" height="14" fill="#cbcbcb"/>
<rect x="290.95" y="414.99" width="8.85" height="14" fill="#ff7f00"/>
<rect x="302.25" y="414.99" width="8.85" height="14" fill="#cbcbcb"/>
<rect x="53.65" y="430.68" width="8.85" height="14" fill="#cbcbcb"/>
<rect x="64.95" y="430.68" width="8.85" height="14" fill="#cbcbcb"/>
<rect x="76.25" y="430.68" width="8.85" height="14" fill="#cbcbcb"/>
<rect x="87.55" y="430.68" width="8.85" height="14" fill="#cbcbcb"/>
<rect x="98.85" y="430.68" width="8.85" height="14" fill="#cbcbcb"/>
<rect x="110.15" y="430.68" width="8.85" height="14" fill="#cbcbcb"/>
<rect x="121.45" y="430.68" width="8.85" height="14" fill="#cbcbcb"/>
<rect x="132.75" y="430.68" width="8.85" height="14" fill="#cbcbcb"/>
<rect x="144.05" y="430.68" width="8.85" height="14" fill="#cbcbcb"/>
<rect x="155.35" y="430.68" width="8.85" height="14" fill="#cbcbcb"/>
<rect x="166.65" y="430.68" width="8.85" height="14" fill="#cbcbcb"/>
<rect x="177.95" y="430.68" width="8.85" height="14" fill="#cbcbcb"/>
<rect x="189.25" y="430.68" width="8.85" height="14" fill="#cbcbcb"/>
<rect x="200.55" y="430.68" width="8.85" height="14" fill="#cbcbcb"/>
<rect x="211.85" y="430.68" width="8.85" height="14" fill="#cbcbcb"/>
<rect x="223.15" y="430.68" width="8.85" height="14" fill="#cbcbcb"/>
<rect x="234.45" y="430.68" width="8.85" height="14" fill="#5b3f99"/>
<rect x="245.75" y="430.68" width="8.85" height="14" fill="#cbcbcb"/>
<rect x="257.05" y="430.68" width="8.85" height="14" fill="#cbcbcb"/>
<rect x="268.35" y="430.68" width="8.85" height="14" fill="#cbcbcb"/>
<rect x="279.65" y="430.68" width="8.85" height="14" fill="#cbcbcb"/>
<rect x="290.95" y="430.68" width="8.85" height="14" fill="#468cd2"/>
<rect x="302.25" y="430.68" width="8.85" height="14" fill="#cbcbcb"/>
</g>
<g>
<text x="24.7" y="96.25" font-size="10.7" text-anchor="end">61%</text>
<text x="317.5" y="96.25" font-size="10.9">TP53</text>
<text x="24.7" y="111.94" font-size="10.7" text-anchor="end">35%</text>
<text x="317.5" y="111.94" font-size="10.9">EGFR</text>
<text x="24.7" y="127.63" font-size="10.7" text-anchor="end">17%</text>
<text x="317.5" y="127.63" font-size="10.9">SMAD4</text>
<text x="24.7" y="143.32" font-size="10.7" text-anchor="end">13%</text>
<text x="317.5" y="143.32" font-size="10.9">BRAF</text>
<text x="24.7" y="159.01" font-size="10.7" text-anchor="end">13%</text>
<text x="317.5" y="159.01" font-size="10.9">PRKACA</text>
<text x="24.7" y="174.7" font-size="10.7" text-anchor="end">13%</text>
<text x="317.5" y="174.7" font-size="10.9">CTNNB1</text>
<text x="24.7" y="190.39" font-size="10.7" text-anchor="end">13%</text>
<text x="317.5" y="190.39" font-size="10.9">NOTCH2</text>
<text x="24.7" y="206.08" font-size="10.7" text-anchor="end">13%</text>
<text x="317.5" y="206.08" font-size="10.9">MET</text>
<text x="24.7" y="221.77" font-size="10.7" text-anchor="end">13%</text>
<text x="317.5" y="221.77" font-size="10.9">WAS</text>
<text x="24.7" y="237.46" font-size="10.7" text-anchor="end">13%</text>
<text x="317.5" y="237.46" font-size="10.9">CYP2D6</text>
<text x="24.7" y="253.15" font-size="10.7" text-anchor="end">13%</text>
<text x="317.5" y="253.15" font-size="10.9">BRCA1</text>
<text x="24.7" y="268.84" font-size="10.7" text-anchor="end">9%</text>
<text x="317.5" y="268.84" font-size="10.9">INHBA</text>
<text x="24.7" y="284.53" font-size="10.7" text-anchor="end">9%</text>
<text x="317.5" y="284.53" font-size="10.9">NAV3</text>
<text x="24.7" y="300.22" font-size="10.7" text-anchor="end">9%</text>
<text x="317.5" y="300.22" font-size="10.9">BRCA2</text>
<text x="24.7" y="315.91" font-size="10.7" text-anchor="end">9%</text>
<text x="317.5" y="315.91" font-size="10.9">PIK3CA</text>
<text x="24.7" y="331.6" font-size="10.7" text-anchor="end">9%</text>
<text x="317.5" y="331.6" font-size="10.9">BRINP3</text>
<text x="24.7" y="347.29" font-size="10.7" text-anchor="end">9%</text>
<text x="317.5" y="347.29" font-size="10.9">MSH2</text>
<text x="24.7" y="362.98" font-size="10.7" text-anchor="end">9%</text>
<text x="317.5" y="362.98" font-size="10.9">ERBB2</text>
<text x="24.7" y="378.67" font-size="10.7" text-anchor="end">9%</text>
<text x="317.5" y="378.67" font-size="10.9">MITF</text>
<text x="24.7" y="394.36" font-size="10.7" text-anchor="end">9%</text>
<text x="317.5" y="394.36" font-size="10.9">ROS1</text>
<text x="24.7" y="410.05" font-size="10.7" text-anchor="end">9%</text>
<text x="317.5" y="410.05" font-size="10.9">FAM131B</text>
<text x="24.7" y="425.74" font-size="10.7" text-anchor="end">9%</text>
<text x="317.5" y="425.74" font-size="10.9">IKZF1</text>
<text x="24.7" y="441.43" font-size="10.7" text-anchor="end">9%</text>
<text x="317.5" y="441.43" font-size="10.9">BTK</text>
</g>
<g>
<text x="61.97" y="450.6" font-size="10.8" text-anchor="end" transform="rotate(-90 61.97 450.6)">P14042</text>
<text x="73.28" y="450.6" font-size="10.8" text-anchor="end" transform="rotate(-90 73.28 450.6)">P6561</text>
<text x="84.58" y="450.6" font-size="10.8" text-anchor="end" transform="rotate(-90 84.58 450.6)">P5249</text>
<text x="95.88" y="450.6" font-size="10.8" text-anchor="end" transform="rotate(-90 95.88 450.6)">P5701</text>
<text x="107.17" y="450.6" font-size="10.8" text-anchor="end" transform="rotate(-90 107.17 450.6)">P170404</text>
<text x="118.48" y="450.6" font-size="10.8" text-anchor="end" transform="rotate(-90 118.48 450.6)">P5082</text>
<text x="129.78" y="450.6" font-size="10.8" text-anchor="end" transform="rotate(-90 129.78 450.6)">P5503</text>
<text x="141.08" y="450.6" font-size="10.8" text-anchor="end" transform="rotate(-90 141.08 450.6)">P6372</text>
<text x="152.38" y="450.6" font-size="10.8" text-anchor="end" transform="rotate(-90 152.38 450.6)">P14039</text>
<text x="163.68" y="450.6" font-size="10.8" text-anchor="end" transform="rotate(-90 163.68 450.6)">P10657</text>
<text x="174.98" y="450.6" font-size="10.8" text-anchor="end" transform="rotate(-90 174.98 450.6)">P12450</text>
<text x="186.28" y="450.6" font-size="10.8" text-anchor="end" transform="rotate(-90 186.28 450.6)">P11923</text>
<text x="197.58" y="450.6" font-size="10.8" text-anchor="end" transform="rotate(-90 197.58 450.6)">P170798</text>
<text x="208.88" y="450.6" font-size="10.8" text-anchor="end" transform="rotate(-90 208.88 450.6)">P6259</text>
<text x="220.18" y="450.6" font-size="10.8" text-anchor="end" transform="rotate(-90 220.18 450.6)">P5801</text>
<text x="231.48" y="450.6" font-size="10.8" text-anchor="end" transform="rotate(-90 231.48 450.6)">P10656</text>
<text x="242.78" y="450.6" font-size="10.8" text-anchor="end" transform="rotate(-90 242.78 450.6)">P6948</text>
<text x="254.08" y="450.6" font-size="10.8" text-anchor="end" transform="rotate(-90 254.08 450.6)">P4118</text>
<text x="265.38" y="450.6" font-size="10.8" text-anchor="end" transform="rotate(-90 265.38 450.6)">P4268</text>
<text x="276.68" y="450.6" font-size="10.8" text-anchor="end" transform="rotate(-90 276.68 450.6)">P7036</text>
<text x="287.97" y="450.6" font-size="10.8" text-anchor="end" transform="rotate(-90 287.97 450.6)">P4588</text>
<text x="299.27" y="450.6" font-size="10.8" text-anchor="end" transform="rotate(-90 299.27 450.6)">P7870</text>
<text x="310.57" y="450.6" font-size="10.8" text-anchor="end" transform="rotate(-90 310.57 450.6)">P4550</text>
</g>
<text x="47" y="264.7" font-size="10.9" text-anchor="middle" transform="rotate(-90 47 264.7)">genes</text>
<g>
<rect x="53.65" y="67.2" width="8.85" height="4.2" fill="#008b00"/>
<rect x="53.65" y="71.2" width="8.85" height="10.8" fill="#0f4c90"/>
<rect x="64.95" y="60.6" width="8.85" height="6.5" fill="#008b00"/>
<rect x="64.95" y="66.9" width="8.85" height="15.1" fill="#0f4c90"/>
<rect x="76.25" y="67.2" width="8.85" height="7.4" fill="#008b00"/>
<rect x="76.25" y="74.4" width="8.85" height="7.6" fill="#0f4c90"/>
<rect x="87.55" y="77.3" width="8.85" height="4.7" fill="#0f4c90"/>
<rect x="98.85" y="70.6" width="8.85" height="4" fill="#008b00"/>
<rect x="98.85" y="74.4" width="8.85" height="7.6" fill="#0f4c90"/>
<rect x="110.15" y="60.6" width="8.85" height="3.6" fill="#008b00"/>
<rect x="110.15" y="64" width="8.85" height="18" fill="#0f4c90"/>
<rect x="121.45" y="75.8" width="8.85" height="1.6" fill="#008b00"/>
<rect x="121.45" y="77.2" width="8.85" height="4.8" fill="#0f4c90"/>
<rect x="132.75" y="37.5" width="8.85" height="15.8" fill="#008b00"/>
<rect x="132.75" y="53.1" width="8.85" height="28.9" fill="#0f4c90"/>
<rect x="144.05" y="67.2" width="8.85" height="6.1" fill="#008b00"/>
<rect x="144.05" y="73.1" width="8.85" height="8.9" fill="#0f4c90"/>
<rect x="155.35" y="72" width="8.85" height="4.5" fill="#008b00"/>
<rect x="155.35" y="76.3" width="8.85" height="5.7" fill="#0f4c90"/>
<rect x="166.65" y="62.5" width="8.85" height="4.4" fill="#008b00"/>
<rect x="166.65" y="66.7" width="8.85" height="15.3" fill="#0f4c90"/>
<rect x="177.95" y="57.1" width="8.85" height="4.3" fill="#008b00"/>
<rect x="177.95" y="61.2" width="8.85" height="20.8" fill="#0f4c90"/>
<rect x="189.25" y="80.4" width="8.85" height="1.6" fill="#0f4c90"/>
<rect x="200.55" y="79" width="8.85" height="1.8" fill="#008b00"/>
<rect x="200.55" y="80.6" width="8.85" height="1.4" fill="#0f4c90"/>
<rect x="211.85" y="75.8" width="8.85" height="6.2" fill="#0f4c90"/>
<rect x="223.15" y="50.6" width="8.85" height="12.7" fill="#008b00"/>
<rect x="223.15" y="63.1" width="8.85" height="18.9" fill="#0f4c90"/>
<rect x="234.45" y="69.3" width="8.85" height="3.7" fill="#008b00"/>
<rect x="234.45" y="72.8" width="8.85" height="9.2" fill="#0f4c90"/>
<rect x="245.75" y="77.4" width="8.85" height="4.6" fill="#0f4c90"/>
<rect x="257.05" y="74.2" width="8.85" height="3.9" fill="#008b00"/>
<rect x="257.05" y="77.9" width="8.85" height="4.1" fill="#0f4c90"/>
<rect x="268.35" y="75.5" width="8.85" height="4" fill="#008b00"/>
<rect x="268.35" y="79.3" width="8.85" height="2.7" fill="#0f4c90"/>
<rect x="279.65" y="77.4" width="8.85" height="2.4" fill="#008b00"/>
<rect x="279.65" y="79.6" width="8.85" height="2.4" fill="#0f4c90"/>
<rect x="290.95" y="57.1" width="8.85" height="7.5" fill="#008b00"/>
<rect x="290.95" y="64.4" width="8.85" height="17.6" fill="#0f4c90"/>
<rect x="302.25" y="79" width="8.85" height="2.2" fill="#008b00"/>
<rect x="302.25" y="81" width="8.85" height="1" fill="#0f4c90"/>
</g>
<line x1="52.5" y1="82" x2="52.5" y2="42.3" stroke="#222" stroke-width="1"/>
<line x1="47.5" y1="82" x2="52.5" y2="82" stroke="#222" stroke-width="1"/>
<line x1="47.5" y1="74.06" x2="52.5" y2="74.06" stroke="#222" stroke-width="1"/>
<line x1="47.5" y1="66.12" x2="52.5" y2="66.12" stroke="#222" stroke-width="1"/>
<line x1="47.5" y1="58.18" x2="52.5" y2="58.18" stroke="#222" stroke-width="1"/>
<line x1="47.5" y1="50.24" x2="52.5" y2="50.24" stroke="#222" stroke-width="1"/>
<line x1="47.5" y1="42.3" x2="52.5" y2="42.3" stroke="#222" stroke-width="1"/>
<text x="42.1" y="85.2" font-size="9.3" text-anchor="end">0</text>
<text x="42.1" y="77.26" font-size="9.3" text-anchor="end">5</text>
<text x="42.1" y="69.32" font-size="9.3" text-anchor="end">10</text>
<text x="42.1" y="61.38" font-size="9.3" text-anchor="end">15</text>
<text x="42.1" y="53.44" font-size="9.3" text-anchor="end">20</text>
<text x="42.1" y="45.5" font-size="9.3" text-anchor="end">25</text>
<text x="317.5" y="53.7" font-size="10.8">Mutations</text>
<text x="317.5" y="68.7" font-size="10.8">per Mb</text>
<text x="170.8" y="22.3" font-size="20.92" text-anchor="middle">Primary Lesions</text>
<g>
<rect x="424.35" y="85.5" width="8.85" height="14" fill="#468cd2"/>
<rect x="435.65" y="85.5" width="8.85" height="14" fill="#cbcbcb"/>
<rect x="446.95" y="85.5" width="8.85" height="14" fill="#cbcbcb"/>
<rect x="458.25" y="85.5" width="8.85" height="14" fill="#cbcbcb"/>
<rect x="469.55" y="85.5" width="8.85" height="14" fill="#cbcbcb"/>
<rect x="480.85" y="85.5" width="8.85" height="14" fill="#cbcbcb"/>
<rect x="492.15" y="85.5" width="8.85" height="14" fill="#468cd2"/>
<rect x="503.45" y="85.5" width="8.85" height="14" fill="#d40000"/>
<rect x="514.75" y="85.5" width="8.85" height="14" fill="#ff7f00"/>
<rect x="526.05" y="85.5" width="8.85" height="14" fill="#cbcbcb"/>
<rect x="537.35" y="85.5" width="8.85" height="14" fill="#ff7f00"/>
<rect x="548.65" y="85.5" width="8.85" height="14" fill="#5b3f99"/>
<rect x="559.95" y="85.5" width="8.85" height="14" fill="#cbcbcb"/>
<rect x="571.25" y="85.5" width="8.85" height="14" fill="#468cd2"/>
<rect x="582.55" y="85.5" width="8.85" height="14" fill="#cbcbcb"/>
<rect x="593.85" y="85.5" width="8.85" height="14" fill="#cbcbcb"/>
<rect x="605.15" y="85.5" width="8.85" height="14" fill="#cbcbcb"/>
<rect x="616.45" y="85.5" width="8.85" height="14" fill="#cbcbcb"/>
<rect x="627.75" y="85.5" width="8.85" height="14" fill="#cbcbcb"/>
<rect x="639.05" y="85.5" width="8.85" height="14" fill="#cbcbcb"/>
<rect x="650.35" y="85.5" width="8.85" height="14" fill="#cbcbcb"/>
<rect x="661.65" y="85.5" width="8.85" height="14" fill="#468cd2"/>
<rect x="672.95" y="85.5" width="8.85" height="14" fill="#468cd2"/>
<rect x="424.35" y="101.19" width="8.85" height="7.2" fill="#468cd2"/>
<rect x="424.35" y="108.19" width="8.85" height="7" fill="#ffe57a"/>
<rect x="435.65" y="101.19" width="8.85" height="14" fill="#ffe57a"/>
<rect x="446.95" y="101.19" width="8.85" height="14" fill="#cbcbcb"/>
<rect x="458.25" y="101.19" width="8.85" height="14" fill="#468cd2"/>
<rect x="469.55" y="101.19" width="8.85" height="14" fill="#468cd2"/>
<rect x="480.85" y="101.19" width="8.85" height="14" fill="#cbcbcb"/>
<rect x="492.15" y="101.19" width="8.85" height="14" fill="#468cd2"/>
<rect x="503.45" y="101.19" width="8.85" height="14" fill="#cbcbcb"/>
<rect x="514.75" y="101.19" width="8.85" height="14" fill="#cbcbcb"/>
<rect x="526.05" y="101.19" width="8.85" height="14" fill="#cbcbcb"/>
<rect x="537.35" y="101.19" width="8.85" height="14" fill="#cbcbcb"/>
<rect x="548.65" y="101.19" width="8.85" height="14" fill="#cbcbcb"/>
<rect x="559.95" y="101.19" width="8.85" height="14" fill="#cbcbcb"/>
<rect x="571.25" y="101.19" width="8.85" height="14" fill="#cbcbcb"/>
<rect x="582.55" y="101.19" width="8.85" height="14" fill="#cbcbcb"/>
<rect x="593.85" y="101.19" width="8.85" height="14" fill="#cbcbcb"/>
<rect x="605.15" y="101.19" width="8.85" height="14" fill="#cbcbcb"/>
<rect x="616.45" y="101.19" width="8.85" height="14" fill="#cbcbcb"/>
<rect x="627.75" y="101.19" width="8.85" height="14" fill="#cbcbcb"/>
<rect x="639.05" y="101.19" width="8.85" height="14" fill="#cbcbcb"/>
<rect x="650.35" y="101.19" width="8.85" height="14" fill="#cbcbcb"/>
<rect x="661.65" y="101.19" width="8.85" height="14" fill="#468cd2"/>
<rect x="672.95" y="101.19" width="8.85" height="14" fill="#cbcbcb"/>
<rect x="424.35" y="116.88" width="8.85" height="14" fill="#cbcbcb"/>
<rect x="435.65" y="116.88" width="8.85" height="14" fill="#cbcbcb"/>
<rect x="446.95" y="116.88" width="8.85" height="14" fill="#cbcbcb"/>
<rect x="458.25" y="116.88" width="8.85" height="14" fill="#cbcbcb"/>
<rect x="469.55" y="116.88" width="8.85" height="14" fill="#cbcbcb"/>
<rect x="480.85" y="116.88" width="8.85" height="14" fill="#cbcbcb"/>
<rect x="492.15" y="116.88" width="8.85" height="14" fill="#cbcbcb"/>
<rect x="503.45" y="116.88" width="8.85" height="14" fill="#ffe57a"/>
<rect x="514.75" y="116.88" width="8.85" height="14" fill="#cbcbcb"/>
<rect x="526.05" y="116.88" width="8.85" height="14" fill="#cbcbcb"/>
<rect x="537.35" y="116.88" width="8.85" height="14" fill="#cbcbcb"/>
<rect x="548.65" y="116.88" width="8.85" height="14" fill="#cbcbcb"/>
<rect x="559.95" y="116.88" width="8.85" height="14" fill="#cbcbcb"/>
<rect x="571.25" y="116.88" width="8.85" height="14" fill="#cbcbcb"/>
<rect x="582.55" y="116.88" width="8.85" height="14" fill="#cbcbcb"/>
<rect x="593.85" y="116.88" width="8.85" height="14" fill="#cbcbcb"/>
<rect x="605.15" y="116.88" width="8.85" height="14" fill="#cbcbcb"/>
<rect x="616.45" y="116.88" width="8.85" height="14" fill="#cbcbcb"/>
<rect x="627.75" y="116.88" width="8.85" height="14" fill="#cbcbcb"/>
<rect x="639.05" y="116.88" width="8.85" height="14" fill="#cbcbcb"/>
<rect x="650.35" y="116.88" width="8.85" height="14" fill="#cbcbcb"/>
<rect x="661.65" y="116.88" width="8.85" height="14" fill="#cbcbcb"/>
<rect x="672.95" y="116.88" width="8.85" height="14" fill="#cbcbcb"/>
<rect x="424.35" y="132.57" width="8.85" height="14" fill="#cbcbcb"/>
<rect x="435.65" y="132.57" width="8.85" height="14" fill="#cbcbcb"/>
<rect x="446.95" y="132.57" width="8.85" height="14" fill="#cbcbcb"/>
<rect x="458.25" y="132.57" width="8.85" height="14" fill="#cbcbcb"/>
<rect x="469.55" y="132.57" width="8.85" height="14" fill="#cbcbcb"/>
<rect x="480.85" y="132.57" width="8.85" height="14" fill="#cbcbcb"/>
<rect x="492.15" y="132.57" width="8.85" height="14" fill="#468cd2"/>
<rect x="503.45" y="132.57" width="8.85" height="14" fill="#cbcbcb"/>
<rect x="514.75" y="132.57" width="8.85" height="14" fill="#cbcbcb"/>
<rect x="526.05" y="132.57" width="8.85" height="14" fill="#cbcbcb"/>
<rect x="537.35" y="132.57" width="8.85" height="14" fill="#468cd2"/>
<rect x="548.65" y="132.57" width="8.85" height="14" fill="#cbcbcb"/>
<rect x="559.95" y="132.57" width="8.85" height="14" fill="#cbcbcb"/>
<rect x="571.25" y="132.57" width="8.85" height="14" fill="#cbcbcb"/>
<rect x="582.55" y="132.57" width="8.85" height="14" fill="#cbcbcb"/>
<rect x="593.85" y="132.57" width="8.85" height="14" fill="#cbcbcb"/>
<rect x="605.15" y="132.57" width="8.85" height="14" fill="#cbcbcb"/>
<rect x="616.45" y="132.57" width="8.85" height="14" fill="#cbcbcb"/>
<rect x="627.75" y="132.57" width="8.85" height="14" fill="#cbcbcb"/>
<rect x="639.05" y="132.57" width="8.85" height="14" fill="#cbcbcb"/>
<rect x="650.35" y="132.57" width="8.85" height="14" fill="#cbcbcb"/>
<rect x="661.65" y="132.57" width="8.85" height="14" fill="#cbcbcb"/>
<rect x="672.95" y="132.57" width="8.85" height="14" fill="#cbcbcb"/>
<rect x="424.35" y="148.26" width="8.85" height="14" fill="#cbcbcb"/>
<rect x="435.65" y="148.26" width="8.85" height="14" fill="#cbcbcb"/>
<rect x="446.95" y="148.26" width="8.85" height="14" fill="#cbcbcb"/>
<rect x="458.25" y="148.26" width="8.85" height="14" fill="#cbcbcb"/>
<rect x="469.55" y="148.26" width="8.85" height="14" fill="#cbcbcb"/>
<rect x="480.85" y="148.26" width="8.85" height="14" fill="#cbcbcb"/>
<rect x="492.15" y="148.26" width="8.85" height="14" fill="#cbcbcb"/>
<rect x="503.45" y="148.26" width="8.85" height="14" fill="#cbcbcb"/>
<rect x="514.75" y="148.26" width="8.85" height="14" fill="#cbcbcb"/>
<rect x="526.05" y="148.26" width="8.85" height="14" fill="#cbcbcb"/>
<rect x="537.35" y="148.26" width="8.85" height="14" fill="#cbcbcb"/>
<rect x="548.65" y="148.26" width="8.85" height="14" fill="#cbcbcb"/>
<rect x="559.95" y="148.26" width="8.85" height="14" fill="#cbcbcb"/>
<rect x="571.25" y="148.26" width="8.85" height="14" fill="#cbcbcb"/>
<rect x="582.55" y="148.26" width="8.85" height="14" fill="#cbcbcb"/>
<rect x="593.85" y="148.26" width="8.85" height="14" fill="#cbcbcb"/>
<rect x="605.15" y="148.26" width="8.85" height="14" fill="#cbcbcb"/>
<rect x="616.45" y="148.26" width="8.85" height="14" fill="#cbcbcb"/>
<rect x="627.75" y="148.26" width="8.85" height="14" fill="#cbcbcb"/>
<rect x="639.05" y="148.26" width="8.85" height="14" fill="#cbcbcb"/>
<rect x="650.35" y="148.26" width="8.85" height="14" fill="#cbcbcb"/>
<rect x="661.65" y="148.26" width="8.85" height="14" fill="#cbcbcb"/>
<rect x="672.95" y="148.26" width="8.85" height="14" fill="#cbcbcb"/>
<rect x="424.35" y="163.95" width="8.85" height="14" fill="#cbcbcb"/>
<rect x="435.65" y="163.95" width="8.85" height="14" fill="#cbcbcb"/>
<rect x="446.95" y="163.95" width="8.85" height="14" fill="#cbcbcb"/>
<rect x="458.25" y="163.95" width="8.85" height="14" fill="#468cd2"/>
<rect x="469.55" y="163.95" width="8.85" height="14" fill="#cbcbcb"/>
<rect x="480.85" y="163.95" width="8.85" height="14" fill="#cbcbcb"/>
<rect x="492.15" y="163.95" width="8.85" height="14" fill="#cbcbcb"/>
<rect x="503.45" y="163.95" width="8.85" height="14" fill="#468cd2"/>
<rect x="514.75" y="163.95" width="8.85" height="14" fill="#cbcbcb"/>
<rect x="526.05" y="163.95" width="8.85" height="14" fill="#cbcbcb"/>
<rect x="537.35" y="163.95" width="8.85" height="14" fill="#cbcbcb"/>
<rect x="548.65" y="163.95" width="8.85" height="14" fill="#468cd2"/>
<rect x="559.95" y="163.95" width="8.85" height="14" fill="#cbcbcb"/>
<rect x="571.25" y="163.95" width="8.85" height="14" fill="#cbcbcb"/>
<rect x="582.55" y="163.95" width="8.85" height="14" fill="#cbcbcb"/>
<rect x="593.85" y="163.95" width="8.85" height="14" fill="#cbcbcb"/>
<rect x="605.15" y="163.95" width="8.85" height="14" fill="#cbcbcb"/>
<rect x="616.45" y="163.95" width="8.85" height="14" fill="#cbcbcb"/>
<rect x="627.75" y="163.95" width="8.85" height="14" fill="#cbcbcb"/>
<rect x="639.05" y="163.95" width="8.85" height="14" fill="#cbcbcb"/>
<rect x="650.35" y="163.95" width="8.85" height="14" fill="#cbcbcb"/>
<rect x="661.65" y="163.95" width="8.85" height="14" fill="#cbcbcb"/>
<rect x="672.95" y="163.95" width="8.85" height="14" fill="#cbcbcb"/>
<rect x="424.35" y="179.64" width="8.85" height="14" fill="#cbcbcb"/>
<rect x="435.65" y="179.64" width="8.85" height="14" fill="#cbcbcb"/>
<rect x="446.95" y="179.64" width="8.85" height="14" fill="#cbcbcb"/>
<rect x="458.25" y="179.64" width="8.85" height="14" fill="#cbcbcb"/>
<rect x="469.55" y="179.64" width="8.85" height="14" fill="#cbcbcb"/>
<rect x="480.85" y="179.64" width="8.85" height="14" fill="#cbcbcb"/>
<rect x="492.15" y="179.64" width="8.85" height="14" fill="#cbcbcb"/>
<rect x="503.45" y="179.64" width="8.85" height="14" fill="#cbcbcb"/>
<rect x="514.75" y="179.64" width="8.85" height="14" fill="#cbcbcb"/>
<rect x="526.05" y="179.64" width="8.85" height="14" fill="#cbcbcb"/>
<rect x="537.35" y="179.64" width="8.85" height="14" fill="#cbcbcb"/>
<rect x="548.65" y="179.64" width="8.85" height="14" fill="#cbcbcb"/>
<rect x="559.95" y="179.64" width="8.85" height="14" fill="#cbcbcb"/>
<rect x="571.25" y="179.64" width="8.85" height="14" fill="#cbcbcb"/>
<rect x="582.55" y="179.64" width="8.85" height="14" fill="#cbcbcb"/>
<rect x="593.85" y="179.64" width="8.85" height="14" fill="#cbcbcb"/>
<rect x="605.15" y="179.64" width="8.85" height="14" fill="#cbcbcb"/>
<rect x="616.45" y="179.64" width="8.85" height="14" fill="#cbcbcb"/>
<rect x="627.75" y="179.64" width="8.85" height="14" fill="#cbcbcb"/>
<rect x="639.05" y="179.64" width="8.85" height="14" fill="#cbcbcb"/>
<rect x="650.35" y="179.64" width="8.85" height="14" fill="#cbcbcb"/>
<rect x="661.65" y="179.64" width="8.85" height="14" fill="#cbcbcb"/>
<rect x="672.95" y="179.64" width="8.85" height="14" fill="#cbcbcb"/>
<rect x="424.35" y="195.33" width="8.85" height="14" fill="#cbcbcb"/>
<rect x="435.65" y="195.33" width="8.85" height="14" fill="#cbcbcb"/>
<rect x="446.95" y="195.33" width="8.85" height="14" fill="#cbcbcb"/>
<rect x="458.25" y="195.33" width="8.85" height="14" fill="#cbcbcb"/>
<rect x="469.55" y="195.33" width="8.85" height="14" fill="#cbcbcb"/>
<rect x="480.85" y="195.33" width="8.85" height="14" fill="#cbcbcb"/>
<rect x="492.15" y="195.33" width="8.85" height="14" fill="#cbcbcb"/>
<rect x="503.45" y="195.33" width="8.85" height="14" fill="#cbcbcb"/>
<rect x="514.75" y="195.33" width="8.85" height="14" fill="#cbcbcb"/>
<rect x="526.05" y="195.33" width="8.85" height="14" fill="#cbcbcb"/>
<rect x="537.35" y="195.33" width="8.85" height="14" fill="#cbcbcb"/>
<rect x="548.65" y="195.33" width="8.85" height="14" fill="#cbcbcb"/>
<rect x="559.95" y="195.33" width="8.85" height="14" fill="#468cd2"/>
<rect x="571.25" y="195.33" width="8.85" height="14" fill="#cbcbcb"/>
<rect x="582.55" y="195.33" width="8.85" height="14" fill="#cbcbcb"/>
<rect x="593.85" y="195.33" width="8.85" height="14" fill="#cbcbcb"/>
<rect x="605.15" y="195.33" width="8.85" height="14" fill="#cbcbcb"/>
<rect x="616.45" y="195.33" width="8.85" height="14" fill="#cbcbcb"/>
<rect x="627.75" y="195.33" width="8.85" height="14" fill="#cbcbcb"/>
<rect x="639.05" y="195.33" width="8.85" height="14" fill="#cbcbcb"/>
<rect x="650.35" y="195.33" width="8.85" height="14" fill="#cbcbcb"/>
<rect x="661.65" y="195.33" width="8.85" height="14" fill="#cbcbcb"/>
<rect x="672.95" y="195.33" width="8.85" height="14" fill="#cbcbcb"/>
<rect x="424.35" y="211.02" width="8.85" height="14" fill="#cbcbcb"/>
<rect x="435.65" y="211.02" width="8.85" height="14" fill="#cbcbcb"/>
<rect x="446.95" y="211.02" width="8.85" height="14" fill="#cbcbcb"/>
<rect x="458.25" y="211.02" width="8.85" height="14" fill="#cbcbcb"/>
<rect x="469.55" y="211.02" width="8.85" height="14" fill="#cbcbcb"/>
<rect x="480.85" y="211.02" width="8.85" height="14" fill="#cbcbcb"/>
<rect x="492.15" y="211.02" width="8.85" height="14" fill="#cbcbcb"/>
<rect x="503.45" y="211.02" width="8.85" height="14" fill="#cbcbcb"/>
<rect x="514.75" y="211.02" width="8.85" height="14" fill="#cbcbcb"/>
<rect x="526.05" y="211.02" width="8.85" height="14" fill="#cbcbcb"/>
<rect x="537.35" y="211.02" width="8.85" height="14" fill="#cbcbcb"/>
<rect x="548.65" y="211.02" width="8.85" height="14" fill="#cbcbcb"/>
<rect x="559.95" y="211.02" width="8.85" height="14" fill="#cbcbcb"/>
<rect x="571.25" y="211.02" width="8.85" height="14" fill="#cbcbcb"/>
<rect x="582.55" y="211.02" width="8.85" height="14" fill="#cbcbcb"/>
<rect x="593.85" y="211.02" width="8.85" height="14" fill="#cbcbcb"/>
<rect x="605.15" y="211.02" width="8.85" height="14" fill="#cbcbcb"/>
<rect x="616.45" y="211.02" width="8.85" height="14" fill="#cbcbcb"/>
<rect x="627.75" y="211.02" width="8.85" height="14" fill="#cbcbcb"/>
<rect x="639.05" y="211.02" width="8.85" height="14" fill="#cbcbcb"/>
<rect x="650.35" y="211.02" width="8.85" height="14" fill="#cbcbcb"/>
<rect x="661.65" y="211.02" width="8.85" height="14" fill="#cbcbcb"/>
<rect x="672.95" y="211.02" width="8.85" height="14" fill="#cbcbcb"/>
<rect x="424.35" y="226.71" width="8.85" height="14" fill="#468cd2"/>
<rect x="435.65" y="226.71" width="8.85" height="14" fill="#cbcbcb"/>
<rect x="446.95" y="226.71" width="8.85" height="14" fill="#cbcbcb"/>
<rect x="458.25" y="226.71" width="8.85" height="14" fill="#cbcbcb"/>
<rect x="469.55" y="226.71" width="8.85" height="14" fill="#cbcbcb"/>
<rect x="480.85" y="226.71" width="8.85" height="14" fill="#cbcbcb"/>
<rect x="492.15" y="226.71" width="8.85" height="14" fill="#468cd2"/>
<rect x="503.45" y="226.71" width="8.85" height="14" fill="#cbcbcb"/>
<rect x="514.75" y="226.71" width="8.85" height="14" fill="#cbcbcb"/>
<rect x="526.05" y="226.71" width="8.85" height="14" fill="#cbcbcb"/>
<rect x="537.35" y="226.71" width="8.85" height="14" fill="#cbcbcb"/>
<rect x="548.65" y="226.71" width="8.85" height="14" fill="#cbcbcb"/>
<rect x="559.95" y="226.71" width="8.85" height="14" fill="#cbcbcb"/>
<rect x="571.25" y="226.71" width="8.85" height="14" fill="#468cd2"/>
<rect x="582.55" y="226.71" width="8.85" height="14" fill="#cbcbcb"/>
<rect x="593.85" y="226.71" width="8.85" height="14" fill="#cbcbcb"/>
<rect x="605.15" y="226.71" width="8.85" height="14" fill="#cbcbcb"/>
<rect x="616.45" y="226.71" width="8.85" height="14" fill="#cbcbcb"/>
<rect x="627.75" y="226.71" width="8.85" height="14" fill="#cbcbcb"/>
<rect x="639.05" y="226.71" width="8.85" height="14" fill="#cbcbcb"/>
<rect x="650.35" y="226.71" width="8.85" height="14" fill="#cbcbcb"/>
<rect x="661.65" y="226.71" width="8.85" height="14" fill="#cbcbcb"/>
<rect x="672.95" y="226.71" width="8.85" height="14" fill="#cbcbcb"/>
<rect x="424.35" y="242.4" width="8.85" height="14" fill="#468cd2"/>
<rect x="435.65" y="242.4" width="8.85" height="14" fill="#cbcbcb"/>
<rect x="446.95" y="242.4" width="8.85" height="14" fill="#cbcbcb"/>
<rect x="458.25" y="242.4" width="8.85" height="14" fill="#cbcbcb"/>
<rect x="469.55" y="242.4" width="8.85" height="14" fill="#cbcbcb"/>
<rect x="480.85" y="242.4" width="8.85" height="14" fill="#cbcbcb"/>
<rect x="492.15" y="242.4" width="8.85" height="14" fill="#cbcbcb"/>
<rect x="503.45" y="242.4" width="8.85" height="14" fill="#cbcbcb"/>
<rect x="514.75" y="242.4" width="8.85" height="14" fill="#cbcbcb"/>
<rect x="526.05" y="242.4" width="8.85" height="14" fill="#cbcbcb"/>
<rect x="537.35" y="242.4" width="8.85" height="14" fill="#cbcbcb"/>
<rect x="548.65" y="242.4" width="8.85" height="14" fill="#cbcbcb"/>
<rect x="559.95" y="242.4" width="8.85" height="14" fill="#cbcbcb"/>
<rect x="571.25" y="242.4" width="8.85" height="14" fill="#cbcbcb"/>
<rect x="582.55" y="242.4" width="8.85" height="14" fill="#cbcbcb"/>
<rect x="593.85" y="242.4" width="8.85" height="14" fill="#cbcbcb"/>
<rect x="605.15" y="242.4" width="8.85" height="14" fill="#cbcbcb"/>
<rect x="616.45" y="242.4" width="8.85" height="14" fill="#cbcbcb"/>
<rect x="627.75" y="242.4" width="8.85" height="14" fill="#cbcbcb"/>
<rect x="639.05" y="242.4" width="8.85" height="14" fill="#cbcbcb"/>
<rect x="650.35" y="242.4" width="8.85" height="14" fill="#cbcbcb"/>
<rect x="661.65" y="242.4" width="8.85" height="14" fill="#468cd2"/>
<rect x="672.95" y="242.4" width="8.85" height="14" fill="#cbcbcb"/>
<rect x="424.35" y="258.09" width="8.85" height="14" fill="#cbcbcb"/>
<rect x="435.65" y="258.09" width="8.85" height="14" fill="#cbcbcb"/>
<rect x="446.95" y="258.09" width="8.85" height="14" fill="#cbcbcb"/>
<rect x="458.25" y="258.09" width="8.85" height="14" fill="#cbcbcb"/>
<rect x="469.55" y="258.09" width="8.85" height="14" fill="#cbcbcb"/>
<rect x="480.85" y="258.09" width="8.85" height="14" fill="#cbcbcb"/>
<rect x="492.15" y="258.09" width="8.85" height="14" fill="#d40000"/>
<rect x="503.45" y="258.09" width="8.85" height="14" fill="#cbcbcb"/>
<rect x="514.75" y="258.09" width="8.85" height="14" fill="#cbcbcb"/>
<rect x="526.05" y="258.09" width="8.85" height="14" fill="#cbcbcb"/>
<rect x="537.35" y="258.09" width="8.85" height="14" fill="#cbcbcb"/>
<rect x="548.65" y="258.09" width="8.85" height="14" fill="#cbcbcb"/>
<rect x="559.95" y="258.09" width="8.85" height="14" fill="#cbcbcb"/>
<rect x="571.25" y="258.09" width="8.85" height="14" fill="#cbcbcb"/>
<rect x="582.55" y="258.09" width="8.85" height="14" fill="#cbcbcb"/>
<rect x="593.85" y="258.09" width="8.85" height="14" fill="#468cd2"/>
<rect x="605.15" y="258.09" width="8.85" height="14" fill="#cbcbcb"/>
<rect x="616.45" y="258.09" width="8.85" height="14" fill="#cbcbcb"/>
<rect x="627.75" y="258.09" width="8.85" height="14" fill="#cbcbcb"/>
<rect x="639.05" y="258.09" width="8.85" height="14" fill="#cbcbcb"/>
<rect x="650.35" y="258.09" width="8.85" height="14" fill="#cbcbcb"/>
<rect x="661.65" y="258.09" width="8.85" height="14" fill="#cbcbcb"/>
<rect x="672.95" y="258.09" width="8.85" height="14" fill="#cbcbcb"/>
<rect x="424.35" y="273.78" width="8.85" height="14" fill="#cbcbcb"/>
<rect x="435.65" y="273.78" width="8.85" height="14" fill="#cbcbcb"/>
<rect x="446.95" y="273.78" width="8.85" height="14" fill="#cbcbcb"/>
<rect x="458.25" y="273.78" width="8.85" height="14" fill="#cbcbcb"/>
<rect x="469.55" y="273.78" width="8.85" height="14" fill="#cbcbcb"/>
<rect x="480.85" y="273.78" width="8.85" height="14" fill="#cbcbcb"/>
<rect x="492.15" y="273.78" width="8.85" height="14" fill="#468cd2"/>
<rect x="503.45" y="273.78" width="8.85" height="14" fill="#cbcbcb"/>
<rect x="514.75" y="273.78" width="8.85" height="14" fill="#cbcbcb"/>
<rect x="526.05" y="273.78" width="8.85" height="14" fill="#cbcbcb"/>
<rect x="537.35" y="273.78" width="8.85" height="14" fill="#cbcbcb"/>
<rect x="548.65" y="273.78" width="8.85" height="14" fill="#cbcbcb"/>
<rect x="559.95" y="273.78" width="8.85" height="14" fill="#cbcbcb"/>
<rect x="571.25" y="273.78" width="8.85" height="14" fill="#cbcbcb"/>
<rect x="582.55" y="273.78" width="8.85" height="14" fill="#cbcbcb"/>
<rect x="593.85" y="273.78" width="8.85" height="14" fill="#cbcbcb"/>
<rect x="605.15" y="273.78" width="8.85" height="14" fill="#cbcbcb"/>
<rect x="616.45" y="273.78" width="8.85" height="14" fill="#cbcbcb"/>
<rect x="627.75" y="273.78" width="8.85" height="14" fill="#cbcbcb"/>
<rect x="639.05" y="273.78" width="8.85" height="14" fill="#cbcbcb"/>
<rect x="650.35" y="273.78" width="8.85" height="14" fill="#cbcbcb"/>
<rect x="661.65" y="273.78" width="8.85" height="14" fill="#cbcbcb"/>
<rect x="672.95" y="273.78" width="8.85" height="14" fill="#cbcbcb"/>
<rect x="424.35" y="289.47" width="8.85" height="14" fill="#cbcbcb"/>
<rect x="435.65" y="289.47" width="8.85" height="14" fill="#cbcbcb"/>
<rect x="446.95" y="289.47" width="8.85" height="14" fill="#cbcbcb"/>
<rect x="458.25" y="289.47" width="8.85" height="14" fill="#cbcbcb"/>
<rect x="469.55" y="289.47" width="8.85" height="14" fill="#cbcbcb"/>
<rect x="480.85" y="289.47" width="8.85" height="14" fill="#cbcbcb"/>
<rect x="492.15" y="289.47" width="8.85" height="14" fill="#cbcbcb"/>
<rect x="503.45" y="289.47" width="8.85" height="14" fill="#cbcbcb"/>
<rect x="514.75" y="289.47" width="8.85" height="14" fill="#cbcbcb"/>
<rect x="526.05" y="289.47" width="8.85" height="14" fill="#cbcbcb"/>
<rect x="537.35" y="289.47" width="8.85" height="14" fill="#468cd2"/>
<rect x="548.65" y="289.47" width="8.85" height="14" fill="#cbcbcb"/>
<rect x="559.95" y="289.47" width="8.85" height="14" fill="#cbcbcb"/>
<rect x="571.25" y="289.47" width="8.85" height="14" fill="#cbcbcb"/>
<rect x="582.55" y="289.47" width="8.85" height="14" fill="#468cd2"/>
<rect x="593.85" y="289.47" width="8.85" height="14" fill="#cbcbcb"/>
<rect x="605.15" y="289.47" width="8.85" height="14" fill="#cbcbcb"/>
<rect x="616.45" y="289.47" width="8.85" height="14" fill="#cbcbcb"/>
<rect x="627.75" y="289.47" width="8.85" height="14" fill="#cbcbcb"/>
<rect x="639.05" y="289.47" width="8.85" height="14" fill="#cbcbcb"/>
<rect x="650.35" y="289.47" width="8.85" height="14" fill="#cbcbcb"/>
<rect x="661.65" y="289.47" width="8.85" height="14" fill="#cbcbcb"/>
<rect x="672.95" y="289.47" width="8.85" height="14" fill="#cbcbcb"/>
<rect x="424.35" y="305.16" width="8.85" height="14" fill="#cbcbcb"/>
<rect x="435.65" y="305.16" width="8.85" height="14" fill="#cbcbcb"/>
<rect x="446.95" y="305.16" width="8.85" height="14" fill="#cbcbcb"/>
<rect x="458.25" y="305.16" width="8.85" height="14" fill="#cbcbcb"/>
<rect x="469.55" y="305.16" width="8.85" height="14" fill="#468cd2"/>
<rect x="480.85" y="305.16" width="8.85" height="14" fill="#5b3f99"/>
<rect x="492.15" y="305.16" width="8.85" height="14" fill="#cbcbcb"/>
<rect x="503.45" y="305.16" width="8.85" height="14" fill="#cbcbcb"/>
<rect x="514.75" y="305.16" width="8.85" height="14" fill="#cbcbcb"/>
<rect x="526.05" y="305.16" width="8.85" height="14" fill="#cbcbcb"/>
<rect x="537.35" y="305.16" width="8.85" height="14" fill="#cbcbcb"/>
<rect x="548.65" y="305.16" width="8.85" height="14" fill="#cbcbcb"/>
<rect x="559.95" y="305.16" width="8.85" height="14" fill="#cbcbcb"/>
<rect x="571.25" y="305.16" width="8.85" height="14" fill="#cbcbcb"/>
<rect x="582.55" y="305.16" width="8.85" height="14" fill="#cbcbcb"/>
<rect x="593.85" y="305.16" width="8.85" height="14" fill="#cbcbcb"/>
<rect x="605.15" y="305.16" width="8.85" height="14" fill="#cbcbcb"/>
<rect x="616.45" y="305.16" width="8.85" height="14" fill="#cbcbcb"/>
<rect x="627.75" y="305.16" width="8.85" height="14" fill="#cbcbcb"/>
<rect x="639.05" y="305.16" width="8.85" height="14" fill="#cbcbcb"/>
<rect x="650.35" y="305.16" width="8.85" height="14" fill="#cbcbcb"/>
<rect x="661.65" y="305.16" width="8.85" height="14" fill="#cbcbcb"/>
<rect x="672.95" y="305.16" width="8.85" height="14" fill="#cbcbcb"/>
<rect x="424.35" y="320.85" width="8.85" height="14" fill="#cbcbcb"/>
<rect x="435.65" y="320.85" width="8.85" height="14" fill="#cbcbcb"/>
<rect x="446.95" y="320.85" width="8.85" height="14" fill="#cbcbcb"/>
<rect x="458.25" y="320.85" width="8.85" height="14" fill="#cbcbcb"/>
<rect x="469.55" y="320.85" width="8.85" height="14" fill="#cbcbcb"/>
<rect x="480.85" y="320.85" width="8.85" height="14" fill="#cbcbcb"/>
<rect x="492.15" y="320.85" width="8.85" height="14" fill="#cbcbcb"/>
<rect x="503.45" y="320.85" width="8.85" height="14" fill="#cbcbcb"/>
<rect x="514.75" y="320.85" width="8.85" height="14" fill="#cbcbcb"/>
<rect x="526.05" y="320.85" width="8.85" height="14" fill="#cbcbcb"/>
<rect x="537.35" y="320.85" width="8.85" height="14" fill="#cbcbcb"/>
<rect x="548.65" y="320.85" width="8.85" height="14" fill="#cbcbcb"/>
<rect x="559.95" y="320.85" width="8.85" height="14" fill="#468cd2"/>
<rect x="571.25" y="320.85" width="8.85" height="14" fill="#cbcbcb"/>
<rect x="582.55" y="320.85" width="8.85" height="14" fill="#cbcbcb"/>
<rect x="593.85" y="320.85" width="8.85" height="14" fill="#cbcbcb"/>
<rect x="605.15" y="320.85" width="8.85" height="14" fill="#cbcbcb"/>
<rect x="616.45" y="320.85" width="8.85" height="14" fill="#cbcbcb"/>
<rect x="627.75" y="320.85" width="8.85" height="14" fill="#cbcbcb"/>
<rect x="639.05" y="320.85" width="8.85" height="14" fill="#cbcbcb"/>
<rect x="650.35" y="320.85" width="8.85" height="14" fill="#cbcbcb"/>
<rect x="661.65" y="320.85" width="8.85" height="14" fill="#468cd2"/>
<rect x="672.95" y="320.85" width="8.85" height="14" fill="#cbcbcb"/>
<rect x="424.35" y="336.54" width="8.85" height="14" fill="#cbcbcb"/>
<rect x="435.65" y="336.54" width="8.85" height="14" fill="#cbcbcb"/>
<rect x="446.95" y="336.54" width="8.85" height="14" fill="#cbcbcb"/>
<rect x="458.25" y="336.54" width="8.85" height="14" fill="#cbcbcb"/>
<rect x="469.55" y="336.54" width="8.85" height="14" fill="#cbcbcb"/>
<rect x="480.85" y="336.54" width="8.85" height="14" fill="#cbcbcb"/>
<rect x="492.15" y="336.54" width="8.85" height="14" fill="#cbcbcb"/>
<rect x="503.45" y="336.54" width="8.85" height="14" fill="#cbcbcb"/>
<rect x="514.75" y="336.54" width="8.85" height="14" fill="#cbcbcb"/>
<rect x="526.05" y="336.54" width="8.85" height="14" fill="#cbcbcb"/>
<rect x="537.35" y="336.54" width="8.85" height="14" fill="#cbcbcb"/>
<rect x="548.65" y="336.54" width="8.85" height="14" fill="#cbcbcb"/>
<rect x="559.95" y="336.54" width="8.85" height="14" fill="#cbcbcb"/>
<rect x="571.25" y="336.54" width="8.85" height="14" fill="#cbcbcb"/>
<rect x="582.55" y="336.54" width="8.85" height="14" fill="#cbcbcb"/>
<rect x="593.85" y="336.54" width="8.85" height="14" fill="#cbcbcb"/>
<rect x="605.15" y="336.54" width="8.85" height="14" fill="#cbcbcb"/>
<rect x="616.45" y="336.54" width="8.85" height="14" fill="#cbcbcb"/>
<rect x="627.75" y="336.54" width="8.85" height="14" fill="#cbcbcb"/>
<rect x="639.05" y="336.54" width="8.85" height="14" fill="#cbcbcb"/>
<rect x="650.35" y="336.54" width="8.85" height="14" fill="#cbcbcb"/>
<rect x="661.65" y="336.54" width="8.85" height="14" fill="#cbcbcb"/>
<rect x="672.95" y="336.54" width="8.85" height="14" fill="#cbcbcb"/>
<rect x="424.35" y="352.23" width="8.85" height="14" fill="#cbcbcb"/>
<rect x="435.65" y="352.23" width="8.85" height="14" fill="#cbcbcb"/>
<rect x="446.95" y="352.23" width="8.85" height="14" fill="#cbcbcb"/>
<rect x="458.25" y="352.23" width="8.85" height="14" fill="#cbcbcb"/>
<rect x="469.55" y="352.23" width="8.85" height="14" fill="#cbcbcb"/>
<rect x="480.85" y="352.23" width="8.85" height="14" fill="#cbcbcb"/>
<rect x="492.15" y="352.23" width="8.85" height="14" fill="#cbcbcb"/>
<rect x="503.45" y="352.23" width="8.85" height="14" fill="#cbcbcb"/>
<rect x="514.75" y="352.23" width="8.85" height="14" fill="#cbcbcb"/>
<rect x="526.05" y="352.23" width="8.85" height="14" fill="#cbcbcb"/>
<rect x="537.35" y="352.23" width="8.85" height="14" fill="#cbcbcb"/>
<rect x="548.65" y="352.23" width="8.85" height="14" fill="#cbcbcb"/>
<rect x="559.95" y="352.23" width="8.85" height="14" fill="#cbcbcb"/>
<rect x="571.25" y="352.23" width="8.85" height="14" fill="#cbcbcb"/>
<rect x="582.55" y="352.23" width="8.85" height="14" fill="#cbcbcb"/>
<rect x="593.85" y="352.23" width="8.85" height="14" fill="#cbcbcb"/>
<rect x="605.15" y="352.23" width="8.85" height="14" fill="#cbcbcb"/>
<rect x="616.45" y="352.23" width="8.85" height="14" fill="#cbcbcb"/>
<rect x="627.75" y="352.23" width="8.85" height="14" fill="#008a00"/>
<rect x="639.05" y="352.23" width="8.85" height="14" fill="#cbcbcb"/>
<rect x="650.35" y="352.23" width="8.85" height="14" fill="#cbcbcb"/>
<rect x="661.65" y="352.23" width="8.85" height="14" fill="#cbcbcb"/>
<rect x="672.95" y="352.23" width="8.85" height="14" fill="#cbcbcb"/>
<rect x="424.35" y="367.92" width="8.85" height="14" fill="#cbcbcb"/>
<rect x="435.65" y="367.92" width="8.85" height="14" fill="#cbcbcb"/>
<rect x="446.95" y="367.92" width="8.85" height="14" fill="#cbcbcb"/>
<rect x="458.25" y="367.92" width="8.85" height="14" fill="#cbcbcb"/>
<rect x="469.55" y="367.92" width="8.85" height="14" fill="#cbcbcb"/>
<rect x="480.85" y="367.92" width="8.85" height="14" fill="#cbcbcb"/>
<rect x="492.15" y="367.92" width="8.85" height="14" fill="#cbcbcb"/>
<rect x="503.45" y="367.92" width="8.85" height="14" fill="#cbcbcb"/>
<rect x="514.75" y="367.92" width="8.85" height="14" fill="#cbcbcb"/>
<rect x="526.05" y="367.92" width="8.85" height="14" fill="#cbcbcb"/>
<rect x="537.35" y="367.92" width="8.85" height="14" fill="#cbcbcb"/>
<rect x="548.65" y="367.92" width="8.85" height="14" fill="#cbcbcb"/>
<rect x="559.95" y="367.92" width="8.85" height="14" fill="#cbcbcb"/>
<rect x="571.25" y="367.92" width="8.85" height="14" fill="#cbcbcb"/>
<rect x="582.55" y="367.92" width="8.85" height="14" fill="#cbcbcb"/>
<rect x="593.85" y="367.92" width="8.85" height="14" fill="#cbcbcb"/>
<rect x="605.15" y="367.92" width="8.85" height="14" fill="#cbcbcb"/>
<rect x="616.45" y="367.92" width="8.85" height="14" fill="#cbcbcb"/>
<rect x="627.75" y="367.92" width="8.85" height="14" fill="#cbcbcb"/>
<rect x="639.05" y="367.92" width="8.85" height="14" fill="#cbcbcb"/>
<rect x="650.35" y="367.92" width="8.85" height="14" fill="#cbcbcb"/>
<rect x="661.65" y="367.92" width="8.85" height="14" fill="#cbcbcb"/>
<rect x="672.95" y="367.92" width="8.85" height="14" fill="#cbcbcb"/>
<rect x="424.35" y="383.61" width="8.85" height="14" fill="#cbcbcb"/>
<rect x="435.65" y="383.61" width="8.85" height="14" fill="#cbcbcb"/>
<rect x="446.95" y="383.61" width="8.85" height="14" fill="#cbcbcb"/>
<rect x="458.25" y="383.61" width="8.85" height="14" fill="#cbcbcb"/>
<rect x="469.55" y="383.61" width="8.85" height="14" fill="#cbcbcb"/>
<rect x="480.85" y="383.61" width="8.85" height="14" fill="#cbcbcb"/>
<rect x="492.15" y="383.61" width="8.85" height="14" fill="#cbcbcb"/>
<rect x="503.45" y="383.61" width="8.85" height="14" fill="#cbcbcb"/>
<rect x="514.75" y="383.61" width="8.85" height="14" fill="#cbcbcb"/>
<rect x="526.05" y="383.61" width="8.85" height="14" fill="#cbcbcb"/>
<rect x="537.35" y="383.61" width="8.85" height="14" fill="#cbcbcb"/>
<rect x="548.65" y="383.61" width="8.85" height="14" fill="#cbcbcb"/>
<rect x="559.95" y="383.61" width="8.85" height="14" fill="#cbcbcb"/>
<rect x="571.25" y="383.61" width="8.85" height="14" fill="#cbcbcb"/>
<rect x="582.55" y="383.61" width="8.85" height="14" fill="#cbcbcb"/>
<rect x="593.85" y="383.61" width="8.85" height="14" fill="#cbcbcb"/>
<rect x="605.15" y="383.61" width="8.85" height="14" fill="#cbcbcb"/>
<rect x="616.45" y="383.61" width="8.85" height="14" fill="#cbcbcb"/>
<rect x="627.75" y="383.61" width="8.85" height="14" fill="#cbcbcb"/>
<rect x="639.05" y="383.61" width="8.85" height="14" fill="#cbcbcb"/>
<rect x="650.35" y="383.61" width="8.85" height="14" fill="#cbcbcb"/>
<rect x="661.65" y="383.61" width="8.85" height="14" fill="#008a00"/>
<rect x="672.95" y="383.61" width="8.85" height="14" fill="#cbcbcb"/>
<rect x="424.35" y="399.3" width="8.85" height="14" fill="#cbcbcb"/>
<rect x="435.65" y="399.3" width="8.85" height="14" fill="#cbcbcb"/>
<rect x="446.95" y="399.3" width="8.85" height="14" fill="#cbcbcb"/>
<rect x="458.25" y="399.3" width="8.85" height="14" fill="#cbcbcb"/>
<rect x="469.55" y="399.3" width="8.85" height="14" fill="#cbcbcb"/>
<rect x="480.85" y="399.3" width="8.85" height="14" fill="#cbcbcb"/>
<rect x="492.15" y="399.3" width="8.85" height="14" fill="#cbcbcb"/>
<rect x="503.45" y="399.3" width="8.85" height="14" fill="#cbcbcb"/>
<rect x="514.75" y="399.3" width="8.85" height="14" fill="#cbcbcb"/>
<rect x="526.05" y="399.3" width="8.85" height="14" fill="#cbcbcb"/>
<rect x="537.35" y="399.3" width="8.85" height="14" fill="#cbcbcb"/>
<rect x="548.65" y="399.3" width="8.85" height="14" fill="#cbcbcb"/>
<rect x="559.95" y="399.3" width="8.85" height="14" fill="#cbcbcb"/>
<rect x="571.25" y="399.3" width="8.85" height="14" fill="#cbcbcb"/>
<rect x="582.55" y="399.3" width="8.85" height="14" fill="#cbcbcb"/>
<rect x="593.85" y="399.3" width="8.85" height="14" fill="#cbcbcb"/>
<rect x="605.15" y="399.3" width="8.85" height="14" fill="#cbcbcb"/>
<rect x="616.45" y="399.3" width="8.85" height="14" fill="#cbcbcb"/>
<rect x="627.75" y="399.3" width="8.85" height="14" fill="#cbcbcb"/>
<rect x="639.05" y="399.3" width="8.85" height="14" fill="#cbcbcb"/>
<rect x="650.35" y="399.3" width="8.85" height="14" fill="#cbcbcb"/>
<rect x="661.65" y="399.3" width="8.85" height="14" fill="#cbcbcb"/>
<rect x="672.95" y="399.3" width="8.85" height="14" fill="#cbcbcb"/>
<rect x="424.35" y="414.99" width="8.85" height="14" fill="#cbcbcb"/>
<rect x="435.65" y="414.99" width="8.85" height="14" fill="#cbcbcb"/>
<rect x="446.95" y="414.99" width="8.85" height="14" fill="#cbcbcb"/>
<rect x="458.25" y="414.99" width="8.85" height="14" fill="#cbcbcb"/>
<rect x="469.55" y="414.99" width="8.85" height="14" fill="#cbcbcb"/>
<rect x="480.85" y="414.99" width="8.85" height="14" fill="#cbcbcb"/>
<rect x="492.15" y="414.99" width="8.85" height="14" fill="#cbcbcb"/>
<rect x="503.45" y="414.99" width="8.85" height="14" fill="#cbcbcb"/>
<rect x="514.75" y="414.99" width="8.85" height="14" fill="#cbcbcb"/>
<rect x="526.05" y="414.99" width="8.85" height="14" fill="#cbcbcb"/>
<rect x="537.35" y="414.99" width="8.85" height="14" fill="#cbcbcb"/>
<rect x="548.65" y="414.99" width="8.85" height="14" fill="#cbcbcb"/>
<rect x="559.95" y="414.99" width="8.85" height="14" fill="#cbcbcb"/>
<rect x="571.25" y="414.99" width="8.85" height="14" fill="#cbcbcb"/>
<rect x="582.55" y="414.99" width="8.85" height="14" fill="#cbcbcb"/>
<rect x="593.85" y="414.99" width="8.85" height="14" fill="#cbcbcb"/>
<rect x="605.15" y="414.99" width="8.85" height="14" fill="#cbcbcb"/>
<rect x="616.45" y="414.99" width="8.85" height="14" fill="#cbcbcb"/>
<rect x="627.75" y="414.99" width="8.85" height="14" fill="#cbcbcb"/>
<rect x="639.05" y="414.99" width="8.85" height="14" fill="#cbcbcb"/>
<rect x="650.35" y="414.99" width="8.85" height="14" fill="#cbcbcb"/>
<rect x="661.65" y="414.99" width="8.85" height="14" fill="#ff7f00"/>
<rect x="672.95" y="414.99" width="8.85" height="14" fill="#cbcbcb"/>
<rect x="424.35" y="430.68" width="8.85" height="14" fill="#cbcbcb"/>
<rect x="435.65" y="430.68" width="8.85" height="14" fill="#cbcbcb"/>
<rect x="446.95" y="430.68" width="8.85" height="14" fill="#cbcbcb"/>
<rect x="458.25" y="430.68" width="8.85" height="14" fill="#cbcbcb"/>
<rect x="469.55" y="430.68" width="8.85" height="14" fill="#cbcbcb"/>
<rect x="480.85" y="430.68" width="8.85" height="14" fill="#cbcbcb"/>
<rect x="492.15" y="430.68" width="8.85" height="14" fill="#cbcbcb"/>
<rect x="503.45" y="430.68" width="8.85" height="14" fill="#cbcbcb"/>
<rect x="514.75" y="430.68" width="8.85" height="14" fill="#cbcbcb"/>
<rect x="526.05" y="430.68" width="8.85" height="14" fill="#cbcbcb"/>
<rect x="537.35" y="430.68" width="8.85" height="14" fill="#cbcbcb"/>
<rect x="548.65" y="430.68" width="8.85" height="14" fill="#cbcbcb"/>
<rect x="559.95" y="430.68" width="8.85" height="14" fill="#cbcbcb"/>
<rect x="571.25" y="430.68" width="8.85" height="14" fill="#cbcbcb"/>
<rect x="582.55" y="430.68" width="8.85" height="14" fill="#cbcbcb"/>
<rect x="593.85" y="430.68" width="8.85" height="14" fill="#cbcbcb"/>
<rect x="605.15" y="430.68" width="8.85" height="14" fill="#cbcbcb"/>
<rect x="616.45" y="430.68" width="8.85" height="14" fill="#cbcbcb"/>
<rect x="627.75" y="430.68" width="8.85" height="14" fill="#cbcbcb"/>
<rect x="639.05" y="430.68" width="8.85" height="14" fill="#cbcbcb"/>
<rect x="650.35" y="430.68" width="8.85" height="14" fill="#cbcbcb"/>
<rect x="661.65" y="430.68" width="8.85" height="14" fill="#cbcbcb"/>
<rect x="672.95" y="430.68" width="8.85" height="14" fill="#cbcbcb"/>
</g>
<g>
<text x="395" y="96.25" font-size="10.7" text-anchor="end">39%</text>
<text x="688" y="96.25" font-size="10.9">TP53</text>
<text x="395" y="111.94" font-size="10.7" text-anchor="end">26%</text>
<text x="688" y="111.94" font-size="10.9">EGFR</text>
<text x="395" y="127.63" font-size="10.7" text-anchor="end">4%</text>
<text x="688" y="127.63" font-size="10.9">SMAD4</text>
<text x="395" y="143.32" font-size="10.7" text-anchor="end">9%</text>
<text x="688" y="143.32" font-size="10.9">BRAF</text>
<text x="395" y="159.01" font-size="10.7" text-anchor="end">0%</text>
<text x="688" y="159.01" font-size="10.9">PRKACA</text>
<text x="395" y="174.7" font-size="10.7" text-anchor="end">13%</text>
<text x="688" y="174.7" font-size="10.9">CTNNB1</text>
<text x="395" y="190.39" font-size="10.7" text-anchor="end">0%</text>
<text x="688" y="190.39" font-size="10.9">NOTCH2</text>
<text x="395" y="206.08" font-size="10.7" text-anchor="end">4%</text>
<text x="688" y="206.08" font-size="10.9">MET</text>
<text x="395" y="221.77" font-size="10.7" text-anchor="end">0%</text>
<text x="688" y="221.77" font-size="10.9">WAS</text>
<text x="395" y="237.46" font-size="10.7" text-anchor="end">13%</text>
<text x="688" y="237.46" font-size="10.9">CYP2D6</text>
<text x="395" y="253.15" font-size="10.7" text-anchor="end">9%</text>
<text x="688" y="253.15" font-size="10.9">BRCA1</text>
<text x="395" y="268.84" font-size="10.7" text-anchor="end">9%</text>
<text x="688" y="268.84" font-size="10.9">INHBA</text>
<text x="395" y="284.53" font-size="10.7" text-anchor="end">4%</text>
<text x="688" y="284.53" font-size="10.9">NAV3</text>
<text x="395" y="300.22" font-size="10.7" text-anchor="end">9%</text>
<text x="688" y="300.22" font-size="10.9">BRCA2</text>
<text x="395" y="315.91" font-size="10.7" text-anchor="end">9%</text>
<text x="688" y="315.91" font-size="10.9">PIK3CA</text>
<text x="395" y="331.6" font-size="10.7" text-anchor="end">9%</text>
<text x="688" y="331.6" font-size="10.9">BRINP3</text>
<text x="395" y="347.29" font-size="10.7" text-anchor="end">0%</text>
<text x="688" y="347.29" font-size="10.9">MSH2</text>
<text x="395" y="362.98" font-size="10.7" text-anchor="end">4%</text>
<text x="688" y="362.98" font-size="10.9">ERBB2</text>
<text x="395" y="378.67" font-size="10.7" text-anchor="end">0%</text>
<text x="688" y="378.67" font-size="10.9">MITF</text>
<text x="395" y="394.36" font-size="10.7" text-anchor="end">4%</text>
<text x="688" y="394.36" font-size="10.9">ROS1</text>
<text x="395" y="410.05" font-size="10.7" text-anchor="end">0%</text>
<text x="688" y="410.05" font-size="10.9">FAM131B</text>
<text x="395" y="425.74" font-size="10.7" text-anchor="end">4%</text>
<text x="688" y="425.74" font-size="10.9">IKZF1</text>
<text x="395" y="441.43" font-size="10.7" text-anchor="end">0%</text>
<text x="688" y="441.43" font-size="10.9">BTK</text>
</g>
<g>
<text x="432.68" y="450.6" font-size="10.8" text-anchor="end" transform="rotate(-90 432.68 450.6)">P14042</text>
<text x="443.98" y="450.6" font-size="10.8" text-anchor="end" transform="rotate(-90 443.98 450.6)">P6561</text>
<text x="455.28" y="450.6" font-size="10.8" text-anchor="end" transform="rotate(-90 455.28 450.6)">P5249</text>
<text x="466.57" y="450.6" font-size="10.8" text-anchor="end" transform="rotate(-90 466.57 450.6)">P5701</text>
<text x="477.88" y="450.6" font-size="10.8" text-anchor="end" transform="rotate(-90 477.88 450.6)">P170404</text>
<text x="489.18" y="450.6" font-size="10.8" text-anchor="end" transform="rotate(-90 489.18 450.6)">P5082</text>
<text x="500.48" y="450.6" font-size="10.8" text-anchor="end" transform="rotate(-90 500.48 450.6)">P5503</text>
<text x="511.78" y="450.6" font-size="10.8" text-anchor="end" transform="rotate(-90 511.78 450.6)">P6372</text>
<text x="523.07" y="450.6" font-size="10.8" text-anchor="end" transform="rotate(-90 523.07 450.6)">P14039</text>
<text x="534.38" y="450.6" font-size="10.8" text-anchor="end" transform="rotate(-90 534.38 450.6)">P10657</text>
<text x="545.67" y="450.6" font-size="10.8" text-anchor="end" transform="rotate(-90 545.67 450.6)">P12450</text>
<text x="556.98" y="450.6" font-size="10.8" text-anchor="end" transform="rotate(-90 556.98 450.6)">P11923</text>
<text x="568.27" y="450.6" font-size="10.8" text-anchor="end" transform="rotate(-90 568.27 450.6)">P170798</text>
<text x="579.57" y="450.6" font-size="10.8" text-anchor="end" transform="rotate(-90 579.57 450.6)">P6259</text>
<text x="590.88" y="450.6" font-size="10.8" text-anchor="end" transform="rotate(-90 590.88 450.6)">P5801</text>
<text x="602.17" y="450.6" font-size="10.8" text-anchor="end" transform="rotate(-90 602.17 450.6)">P10656</text>
<text x="613.48" y="450.6" font-size="10.8" text-anchor="end" transform="rotate(-90 613.48 450.6)">P6948</text>
<text x="624.77" y="450.6" font-size="10.8" text-anchor="end" transform="rotate(-90 624.77 450.6)">P4118</text>
<text x="636.07" y="450.6" font-size="10.8" text-anchor="end" transform="rotate(-90 636.07 450.6)">P4268</text>
<text x="647.38" y="450.6" font-size="10.8" text-anchor="end" transform="rotate(-90 647.38 450.6)">P7036</text>
<text x="658.67" y="450.6" font-size="10.8" text-anchor="end" transform="rotate(-90 658.67 450.6)">P4588</text>
<text x="669.98" y="450.6" font-size="10.8" text-anchor="end" transform="rotate(-90 669.98 450.6)">P7870</text>
<text x="681.27" y="450.6" font-size="10.8" text-anchor="end" transform="rotate(-90 681.27 450.6)">P4550</text>
</g>
<text x="417" y="264.7" font-size="10.9" text-anchor="middle" transform="rotate(-90 417 264.7)">genes</text>
<g>
<rect x="424.35" y="64.3" width="8.85" height="4.3" fill="#008b00"/>
<rect x="424.35" y="68.4" width="8.85" height="13.6" fill="#0f4c90"/>
<rect x="435.65" y="77.2" width="8.85" height="1.8" fill="#008b00"/>
<rect x="435.65" y="78.8" width="8.85" height="3.2" fill="#0f4c90"/>
<rect x="446.95" y="79.8" width="8.85" height="1.4" fill="#008b00"/>
<rect x="446.95" y="81" width="8.85" height="1" fill="#0f4c90"/>
<rect x="458.25" y="79.8" width="8.85" height="2.2" fill="#0f4c90"/>
<rect x="469.55" y="75.7" width="8.85" height="1.5" fill="#008b00"/>
<rect x="469.55" y="77" width="8.85" height="5" fill="#0f4c90"/>
<rect x="480.85" y="79.8" width="8.85" height="2.2" fill="#0f4c90"/>
<rect x="492.15" y="64.3" width="8.85" height="4.3" fill="#008b00"/>
<rect x="492.15" y="68.4" width="8.85" height="13.6" fill="#0f4c90"/>
<rect x="503.45" y="75.9" width="8.85" height="1.5" fill="#008b00"/>
<rect x="503.45" y="77.2" width="8.85" height="4.8" fill="#0f4c90"/>
<rect x="514.75" y="73.4" width="8.85" height="2.7" fill="#008b00"/>
<rect x="514.75" y="75.9" width="8.85" height="6.1" fill="#0f4c90"/>
<rect x="526.05" y="79.8" width="8.85" height="2.2" fill="#0f4c90"/>
<rect x="537.35" y="56.5" width="8.85" height="5.8" fill="#008b00"/>
<rect x="537.35" y="62.1" width="8.85" height="19.9" fill="#0f4c90"/>
<rect x="548.65" y="73.4" width="8.85" height="4" fill="#008b00"/>
<rect x="548.65" y="77.2" width="8.85" height="4.8" fill="#0f4c90"/>
<rect x="559.95" y="57.8" width="8.85" height="6.7" fill="#008b00"/>
<rect x="559.95" y="64.3" width="8.85" height="17.7" fill="#0f4c90"/>
<rect x="571.25" y="70.8" width="8.85" height="11.2" fill="#0f4c90"/>
<rect x="582.55" y="79.8" width="8.85" height="2.2" fill="#0f4c90"/>
<rect x="593.85" y="66.9" width="8.85" height="5.6" fill="#008b00"/>
<rect x="593.85" y="72.3" width="8.85" height="9.7" fill="#0f4c90"/>
<rect x="627.75" y="80.9" width="8.85" height="1.3" fill="#008b00"/>
<rect x="639.05" y="79.8" width="8.85" height="1.4" fill="#008b00"/>
<rect x="639.05" y="81" width="8.85" height="1" fill="#0f4c90"/>
<rect x="650.35" y="77" width="8.85" height="1.7" fill="#008b00"/>
<rect x="650.35" y="78.5" width="8.85" height="3.5" fill="#0f4c90"/>
<rect x="661.65" y="37.2" width="8.85" height="10.8" fill="#008b00"/>
<rect x="661.65" y="47.8" width="8.85" height="34.2" fill="#0f4c90"/>
<rect x="672.95" y="79.8" width="8.85" height="2.2" fill="#0f4c90"/>
</g>
<line x1="423.1" y1="82" x2="423.1" y2="39.05" stroke="#222" stroke-width="1"/>
<line x1="418.1" y1="82" x2="423.1" y2="82" stroke="#222" stroke-width="1"/>
<line x1="418.1" y1="75.86" x2="423.1" y2="75.86" stroke="#222" stroke-width="1"/>
<line x1="418.1" y1="69.73" x2="423.1" y2="69.73" stroke="#222" stroke-width="1"/>
<line x1="418.1" y1="63.59" x2="423.1" y2="63.59" stroke="#222" stroke-width="1"/>
<line x1="418.1" y1="57.46" x2="423.1" y2="57.46" stroke="#222" stroke-width="1"/>
<line x1="418.1" y1="51.33" x2="423.1" y2="51.33" stroke="#222" stroke-width="1"/>
<line x1="418.1" y1="45.19" x2="423.1" y2="45.19" stroke="#222" stroke-width="1"/>
<line x1="418.1" y1="39.05" x2="423.1" y2="39.05" stroke="#222" stroke-width="1"/>
<text x="412.3" y="85.2" font-size="9.3" text-anchor="end">0</text>
<text x="412.3" y="72.93" font-size="9.3" text-anchor="end">10</text>
<text x="412.3" y="60.66" font-size="9.3" text-anchor="end">20</text>
<text x="412.3" y="48.39" font-size="9.3" text-anchor="end">30</text>
<text x="688" y="53.7" font-size="10.8">Mutations</text>
<text x="688" y="68.7" font-size="10.8">per Mb</text>
<text x="541.6" y="22.7" font-size="20.92" text-anchor="middle">LN metastasis lesion</text>
<g>
<rect x="91.6" y="604.7" width="9.95" height="15.1" fill="#cbcbcb"/>
<rect x="104.32" y="604.7" width="9.95" height="15.1" fill="#5b3f99"/>
<rect x="117.04" y="604.7" width="9.95" height="15.1" fill="#d40000"/>
<rect x="129.76" y="604.7" width="9.95" height="15.1" fill="#d40000"/>
<rect x="142.48" y="604.7" width="9.95" height="15.1" fill="#468cd2"/>
<rect x="155.2" y="604.7" width="9.95" height="15.1" fill="#468cd2"/>
<rect x="167.92" y="604.7" width="9.95" height="15.1" fill="#d40000"/>
<rect x="180.64" y="604.7" width="9.95" height="15.1" fill="#5b3f99"/>
<rect x="193.36" y="604.7" width="9.95" height="15.1" fill="#468cd2"/>
<rect x="206.08" y="604.7" width="9.95" height="15.1" fill="#ff7f00"/>
<rect x="218.8" y="604.7" width="9.95" height="15.1" fill="#468cd2"/>
<rect x="231.52" y="604.7" width="9.95" height="15.1" fill="#cbcbcb"/>
<rect x="244.24" y="604.7" width="9.95" height="15.1" fill="#cbcbcb"/>
<rect x="256.96" y="604.7" width="9.95" height="15.1" fill="#cbcbcb"/>
<rect x="91.6" y="621.74" width="9.95" height="15.1" fill="#468cd2"/>
<rect x="104.32" y="621.74" width="9.95" height="15.1" fill="#468cd2"/>
<rect x="117.04" y="621.74" width="9.95" height="15.1" fill="#cbcbcb"/>
<rect x="129.76" y="621.74" width="9.95" height="15.1" fill="#cbcbcb"/>
<rect x="142.48" y="621.74" width="9.95" height="15.1" fill="#cbcbcb"/>
<rect x="155.2" y="621.74" width="9.95" height="15.1" fill="#cbcbcb"/>
<rect x="167.92" y="621.74" width="9.95" height="15.1" fill="#cbcbcb"/>
<rect x="180.64" y="621.74" width="9.95" height="15.1" fill="#cbcbcb"/>
<rect x="193.36" y="621.74" width="9.95" height="15.1" fill="#cbcbcb"/>
<rect x="206.08" y="621.74" width="9.95" height="15.1" fill="#cbcbcb"/>
<rect x="218.8" y="621.74" width="9.95" height="15.1" fill="#cbcbcb"/>
<rect x="231.52" y="621.74" width="9.95" height="15.1" fill="#468cd2"/>
<rect x="244.24" y="621.74" width="9.95" height="15.1" fill="#cbcbcb"/>
<rect x="256.96" y="621.74" width="9.95" height="15.1" fill="#cbcbcb"/>
<rect x="91.6" y="638.78" width="9.95" height="15.1" fill="#cbcbcb"/>
<rect x="104.32" y="638.78" width="9.95" height="15.1" fill="#cbcbcb"/>
<rect x="117.04" y="638.78" width="9.95" height="15.1" fill="#008a00"/>
<rect x="129.76" y="638.78" width="9.95" height="15.1" fill="#cbcbcb"/>
<rect x="142.48" y="638.78" width="9.95" height="15.1" fill="#cbcbcb"/>
<rect x="155.2" y="638.78" width="9.95" height="15.1" fill="#cbcbcb"/>
<rect x="167.92" y="638.78" width="9.95" height="15.1" fill="#cbcbcb"/>
<rect x="180.64" y="638.78" width="9.95" height="15.1" fill="#cbcbcb"/>
<rect x="193.36" y="638.78" width="9.95" height="15.1" fill="#cbcbcb"/>
<rect x="206.08" y="638.78" width="9.95" height="15.1" fill="#cbcbcb"/>
<rect x="218.8" y="638.78" width="9.95" height="15.1" fill="#cbcbcb"/>
<rect x="231.52" y="638.78" width="9.95" height="15.1" fill="#cbcbcb"/>
<rect x="244.24" y="638.78" width="9.95" height="15.1" fill="#468cd2"/>
<rect x="256.96" y="638.78" width="9.95" height="15.1" fill="#468cd2"/>
<rect x="91.6" y="655.82" width="9.95" height="15.1" fill="#cbcbcb"/>
<rect x="104.32" y="655.82" width="9.95" height="15.1" fill="#cbcbcb"/>
<rect x="117.04" y="655.82" width="9.95" height="15.1" fill="#cbcbcb"/>
<rect x="129.76" y="655.82" width="9.95" height="15.1" fill="#468cd2"/>
<rect x="142.48" y="655.82" width="9.95" height="15.1" fill="#cbcbcb"/>
<rect x="155.2" y="655.82" width="9.95" height="15.1" fill="#cbcbcb"/>
<rect x="167.92" y="655.82" width="9.95" height="15.1" fill="#cbcbcb"/>
<rect x="180.64" y="655.82" width="9.95" height="15.1" fill="#cbcbcb"/>
<rect x="193.36" y="655.82" width="9.95" height="15.1" fill="#cbcbcb"/>
<rect x="206.08" y="655.82" width="9.95" height="15.1" fill="#cbcbcb"/>
<rect x="218.8" y="655.82" width="9.95" height="15.1" fill="#cbcbcb"/>
<rect x="231.52" y="655.82" width="9.95" height="15.1" fill="#468cd2"/>
<rect x="244.24" y="655.82" width="9.95" height="15.1" fill="#cbcbcb"/>
<rect x="256.96" y="655.82" width="9.95" height="15.1" fill="#cbcbcb"/>
<rect x="91.6" y="672.86" width="9.95" height="15.1" fill="#cbcbcb"/>
<rect x="104.32" y="672.86" width="9.95" height="15.1" fill="#cbcbcb"/>
<rect x="117.04" y="672.86" width="9.95" height="15.1" fill="#cbcbcb"/>
<rect x="129.76" y="672.86" width="9.95" height="15.1" fill="#cbcbcb"/>
<rect x="142.48" y="672.86" width="9.95" height="15.1" fill="#008a00"/>
<rect x="155.2" y="672.86" width="9.95" height="15.1" fill="#cbcbcb"/>
<rect x="167.92" y="672.86" width="9.95" height="15.1" fill="#cbcbcb"/>
<rect x="180.64" y="672.86" width="9.95" height="15.1" fill="#cbcbcb"/>
<rect x="193.36" y="672.86" width="9.95" height="15.1" fill="#cbcbcb"/>
<rect x="206.08" y="672.86" width="9.95" height="15.1" fill="#cbcbcb"/>
<rect x="218.8" y="672.86" width="9.95" height="15.1" fill="#cbcbcb"/>
<rect x="231.52" y="672.86" width="9.95" height="15.1" fill="#468cd2"/>
<rect x="244.24" y="672.86" width="9.95" height="15.1" fill="#cbcbcb"/>
<rect x="256.96" y="672.86" width="9.95" height="15.1" fill="#cbcbcb"/>
<rect x="91.6" y="689.9" width="9.95" height="15.1" fill="#cbcbcb"/>
<rect x="104.32" y="689.9" width="9.95" height="15.1" fill="#cbcbcb"/>
<rect x="117.04" y="689.9" width="9.95" height="15.1" fill="#cbcbcb"/>
<rect x="129.76" y="689.9" width="9.95" height="15.1" fill="#468cd2"/>
<rect x="142.48" y="689.9" width="9.95" height="15.1" fill="#cbcbcb"/>
<rect x="155.2" y="689.9" width="9.95" height="15.1" fill="#468cd2"/>
<rect x="167.92" y="689.9" width="9.95" height="15.1" fill="#cbcbcb"/>
<rect x="180.64" y="689.9" width="9.95" height="15.1" fill="#cbcbcb"/>
<rect x="193.36" y="689.9" width="9.95" height="15.1" fill="#cbcbcb"/>
<rect x="206.08" y="689.9" width="9.95" height="15.1" fill="#cbcbcb"/>
<rect x="218.8" y="689.9" width="9.95" height="15.1" fill="#cbcbcb"/>
<rect x="231.52" y="689.9" width="9.95" height="15.1" fill="#cbcbcb"/>
<rect x="244.24" y="689.9" width="9.95" height="15.1" fill="#cbcbcb"/>
<rect x="256.96" y="689.9" width="9.95" height="15.1" fill="#cbcbcb"/>
<rect x="91.6" y="706.94" width="9.95" height="15.1" fill="#cbcbcb"/>
<rect x="104.32" y="706.94" width="9.95" height="15.1" fill="#cbcbcb"/>
<rect x="117.04" y="706.94" width="9.95" height="15.1" fill="#cbcbcb"/>
<rect x="129.76" y="706.94" width="9.95" height="15.1" fill="#cbcbcb"/>
<rect x="142.48" y="706.94" width="9.95" height="15.1" fill="#cbcbcb"/>
<rect x="155.2" y="706.94" width="9.95" height="15.1" fill="#468cd2"/>
<rect x="167.92" y="706.94" width="9.95" height="15.1" fill="#cbcbcb"/>
<rect x="180.64" y="706.94" width="9.95" height="15.1" fill="#cbcbcb"/>
<rect x="193.36" y="706.94" width="9.95" height="15.1" fill="#cbcbcb"/>
<rect x="206.08" y="706.94" width="9.95" height="15.1" fill="#cbcbcb"/>
<rect x="218.8" y="706.94" width="9.95" height="15.1" fill="#cbcbcb"/>
<rect x="231.52" y="706.94" width="9.95" height="15.1" fill="#cbcbcb"/>
<rect x="244.24" y="706.94" width="9.95" height="15.1" fill="#468cd2"/>
<rect x="256.96" y="706.94" width="9.95" height="15.1" fill="#cbcbcb"/>
<rect x="91.6" y="723.98" width="9.95" height="15.1" fill="#cbcbcb"/>
<rect x="104.32" y="723.98" width="9.95" height="15.1" fill="#cbcbcb"/>
<rect x="117.04" y="723.98" width="9.95" height="15.1" fill="#008a00"/>
<rect x="129.76" y="723.98" width="9.95" height="15.1" fill="#cbcbcb"/>
<rect x="142.48" y="723.98" width="9.95" height="15.1" fill="#468cd2"/>
<rect x="155.2" y="723.98" width="9.95" height="15.1" fill="#cbcbcb"/>
<rect x="167.92" y="723.98" width="9.95" height="15.1" fill="#cbcbcb"/>
<rect x="180.64" y="723.98" width="9.95" height="15.1" fill="#cbcbcb"/>
<rect x="193.36" y="723.98" width="9.95" height="15.1" fill="#cbcbcb"/>
<rect x="206.08" y="723.98" width="9.95" height="15.1" fill="#cbcbcb"/>
<rect x="218.8" y="723.98" width="9.95" height="15.1" fill="#cbcbcb"/>
<rect x="231.52" y="723.98" width="9.95" height="15.1" fill="#cbcbcb"/>
<rect x="244.24" y="723.98" width="9.95" height="15.1" fill="#cbcbcb"/>
<rect x="256.96" y="723.98" width="9.95" height="15.1" fill="#cbcbcb"/>
<rect x="91.6" y="741.02" width="9.95" height="15.1" fill="#cbcbcb"/>
<rect x="104.32" y="741.02" width="9.95" height="15.1" fill="#cbcbcb"/>
<rect x="117.04" y="741.02" width="9.95" height="15.1" fill="#cbcbcb"/>
<rect x="129.76" y="741.02" width="9.95" height="15.1" fill="#cbcbcb"/>
<rect x="142.48" y="741.02" width="9.95" height="15.1" fill="#468cd2"/>
<rect x="155.2" y="741.02" width="9.95" height="15.1" fill="#cbcbcb"/>
<rect x="167.92" y="741.02" width="9.95" height="15.1" fill="#468cd2"/>
<rect x="180.64" y="741.02" width="9.95" height="15.1" fill="#cbcbcb"/>
<rect x="193.36" y="741.02" width="9.95" height="15.1" fill="#cbcbcb"/>
<rect x="206.08" y="741.02" width="9.95" height="15.1" fill="#cbcbcb"/>
<rect x="218.8" y="741.02" width="9.95" height="15.1" fill="#cbcbcb"/>
<rect x="231.52" y="741.02" width="9.95" height="15.1" fill="#cbcbcb"/>
<rect x="244.24" y="741.02" width="9.95" height="15.1" fill="#cbcbcb"/>
<rect x="256.96" y="741.02" width="9.95" height="15.1" fill="#cbcbcb"/>
<rect x="91.6" y="758.06" width="9.95" height="15.1" fill="#cbcbcb"/>
<rect x="104.32" y="758.06" width="9.95" height="15.1" fill="#cbcbcb"/>
<rect x="117.04" y="758.06" width="9.95" height="15.1" fill="#cbcbcb"/>
<rect x="129.76" y="758.06" width="9.95" height="15.1" fill="#cbcbcb"/>
<rect x="142.48" y="758.06" width="9.95" height="15.1" fill="#468cd2"/>
<rect x="155.2" y="758.06" width="9.95" height="15.1" fill="#cbcbcb"/>
<rect x="167.92" y="758.06" width="9.95" height="15.1" fill="#cbcbcb"/>
<rect x="180.64" y="758.06" width="9.95" height="15.1" fill="#cbcbcb"/>
<rect x="193.36" y="758.06" width="9.95" height="15.1" fill="#cbcbcb"/>
<rect x="206.08" y="758.06" width="9.95" height="15.1" fill="#cbcbcb"/>
<rect x="218.8" y="758.06" width="9.95" height="15.1" fill="#cbcbcb"/>
<rect x="231.52" y="758.06" width="9.95" height="15.1" fill="#cbcbcb"/>
<rect x="244.24" y="758.06" width="9.95" height="15.1" fill="#008a00"/>
<rect x="256.96" y="758.06" width="9.95" height="15.1" fill="#cbcbcb"/>
<rect x="91.6" y="775.1" width="9.95" height="15.1" fill="#cbcbcb"/>
<rect x="104.32" y="775.1" width="9.95" height="15.1" fill="#cbcbcb"/>
<rect x="117.04" y="775.1" width="9.95" height="15.1" fill="#cbcbcb"/>
<rect x="129.76" y="775.1" width="9.95" height="15.1" fill="#cbcbcb"/>
<rect x="142.48" y="775.1" width="9.95" height="15.1" fill="#008a00"/>
<rect x="155.2" y="775.1" width="9.95" height="15.1" fill="#cbcbcb"/>
<rect x="167.92" y="775.1" width="9.95" height="15.1" fill="#cbcbcb"/>
<rect x="180.64" y="775.1" width="9.95" height="15.1" fill="#cbcbcb"/>
<rect x="193.36" y="775.1" width="9.95" height="15.1" fill="#cbcbcb"/>
<rect x="206.08" y="775.1" width="9.95" height="15.1" fill="#cbcbcb"/>
<rect x="218.8" y="775.1" width="9.95" height="15.1" fill="#cbcbcb"/>
<rect x="231.52" y="775.1" width="9.95" height="15.1" fill="#cbcbcb"/>
<rect x="244.24" y="775.1" width="9.95" height="15.1" fill="#008a00"/>
<rect x="256.96" y="775.1" width="9.95" height="15.1" fill="#cbcbcb"/>
<rect x="91.6" y="792.14" width="9.95" height="15.1" fill="#cbcbcb"/>
<rect x="104.32" y="792.14" width="9.95" height="15.1" fill="#cbcbcb"/>
<rect x="117.04" y="792.14" width="9.95" height="15.1" fill="#cbcbcb"/>
<rect x="129.76" y="792.14" width="9.95" height="15.1" fill="#008a00"/>
<rect x="142.48" y="792.14" width="9.95" height="15.1" fill="#cbcbcb"/>
<rect x="155.2" y="792.14" width="9.95" height="15.1" fill="#cbcbcb"/>
<rect x="167.92" y="792.14" width="9.95" height="15.1" fill="#cbcbcb"/>
<rect x="180.64" y="792.14" width="9.95" height="15.1" fill="#008a00"/>
<rect x="193.36" y="792.14" width="9.95" height="15.1" fill="#cbcbcb"/>
<rect x="206.08" y="792.14" width="9.95" height="15.1" fill="#cbcbcb"/>
<rect x="218.8" y="792.14" width="9.95" height="15.1" fill="#cbcbcb"/>
<rect x="231.52" y="792.14" width="9.95" height="15.1" fill="#cbcbcb"/>
<rect x="244.24" y="792.14" width="9.95" height="15.1" fill="#cbcbcb"/>
<rect x="256.96" y="792.14" width="9.95" height="15.1" fill="#cbcbcb"/>
<rect x="91.6" y="809.18" width="9.95" height="15.1" fill="#cbcbcb"/>
<rect x="104.32" y="809.18" width="9.95" height="15.1" fill="#cbcbcb"/>
<rect x="117.04" y="809.18" width="9.95" height="15.1" fill="#cbcbcb"/>
<rect x="129.76" y="809.18" width="9.95" height="15.1" fill="#cbcbcb"/>
<rect x="142.48" y="809.18" width="9.95" height="15.1" fill="#cbcbcb"/>
<rect x="155.2" y="809.18" width="9.95" height="15.1" fill="#cbcbcb"/>
<rect x="167.92" y="809.18" width="9.95" height="15.1" fill="#468cd2"/>
<rect x="180.64" y="809.18" width="9.95" height="15.1" fill="#cbcbcb"/>
<rect x="193.36" y="809.18" width="9.95" height="15.1" fill="#468cd2"/>
<rect x="206.08" y="809.18" width="9.95" height="15.1" fill="#cbcbcb"/>
<rect x="218.8" y="809.18" width="9.95" height="15.1" fill="#cbcbcb"/>
<rect x="231.52" y="809.18" width="9.95" height="15.1" fill="#cbcbcb"/>
<rect x="244.24" y="809.18" width="9.95" height="15.1" fill="#cbcbcb"/>
<rect x="256.96" y="809.18" width="9.95" height="15.1" fill="#cbcbcb"/>
<rect x="91.6" y="826.22" width="9.95" height="15.1" fill="#cbcbcb"/>
<rect x="104.32" y="826.22" width="9.95" height="15.1" fill="#cbcbcb"/>
<rect x="117.04" y="826.22" width="9.95" height="15.1" fill="#cbcbcb"/>
<rect x="129.76" y="826.22" width="9.95" height="15.1" fill="#cbcbcb"/>
<rect x="142.48" y="826.22" width="9.95" height="15.1" fill="#cbcbcb"/>
<rect x="155.2" y="826.22" width="9.95" height="15.1" fill="#cbcbcb"/>
<rect x="167.92" y="826.22" width="9.95" height="15.1" fill="#cbcbcb"/>
<rect x="180.64" y="826.22" width="9.95" height="15.1" fill="#d40000"/>
<rect x="193.36" y="826.22" width="9.95" height="15.1" fill="#cbcbcb"/>
<rect x="206.08" y="826.22" width="9.95" height="15.1" fill="#cbcbcb"/>
<rect x="218.8" y="826.22" width="9.95" height="15.1" fill="#cbcbcb"/>
<rect x="231.52" y="826.22" width="9.95" height="15.1" fill="#cbcbcb"/>
<rect x="244.24" y="826.22" width="9.95" height="15.1" fill="#468cd2"/>
<rect x="256.96" y="826.22" width="9.95" height="15.1" fill="#cbcbcb"/>
<rect x="91.6" y="843.26" width="9.95" height="15.1" fill="#cbcbcb"/>
<rect x="104.32" y="843.26" width="9.95" height="15.1" fill="#468cd2"/>
<rect x="117.04" y="843.26" width="9.95" height="15.1" fill="#cbcbcb"/>
<rect x="129.76" y="843.26" width="9.95" height="15.1" fill="#cbcbcb"/>
<rect x="142.48" y="843.26" width="9.95" height="15.1" fill="#cbcbcb"/>
<rect x="155.2" y="843.26" width="9.95" height="15.1" fill="#cbcbcb"/>
<rect x="167.92" y="843.26" width="9.95" height="15.1" fill="#cbcbcb"/>
<rect x="180.64" y="843.26" width="9.95" height="15.1" fill="#cbcbcb"/>
<rect x="193.36" y="843.26" width="9.95" height="15.1" fill="#468cd2"/>
<rect x="206.08" y="843.26" width="9.95" height="15.1" fill="#cbcbcb"/>
<rect x="218.8" y="843.26" width="9.95" height="15.1" fill="#cbcbcb"/>
<rect x="231.52" y="843.26" width="9.95" height="15.1" fill="#cbcbcb"/>
<rect x="244.24" y="843.26" width="9.95" height="15.1" fill="#cbcbcb"/>
<rect x="256.96" y="843.26" width="9.95" height="15.1" fill="#cbcbcb"/>
</g>
<g>
<text x="62" y="616.15" font-size="10.7" text-anchor="end">71%</text>
<text x="273.4" y="616.45" font-size="10.9">TP53</text>
<text x="62" y="633.19" font-size="10.7" text-anchor="end">21%</text>
<text x="273.4" y="633.49" font-size="10.9">PIK3CA</text>
<text x="62" y="650.23" font-size="10.7" text-anchor="end">21%</text>
<text x="273.4" y="650.53" font-size="10.9">MKI67</text>
<text x="62" y="667.27" font-size="10.7" text-anchor="end">14%</text>
<text x="273.4" y="667.57" font-size="10.9">ZNF521</text>
<text x="62" y="684.31" font-size="10.7" text-anchor="end">14%</text>
<text x="273.4" y="684.61" font-size="10.9">CYP2A6</text>
<text x="62" y="701.35" font-size="10.7" text-anchor="end">14%</text>
<text x="273.4" y="701.65" font-size="10.9">BCL6</text>
<text x="62" y="718.39" font-size="10.7" text-anchor="end">14%</text>
<text x="273.4" y="718.69" font-size="10.9">IL21R</text>
<text x="62" y="735.43" font-size="10.7" text-anchor="end">14%</text>
<text x="273.4" y="735.73" font-size="10.9">NUDC</text>
<text x="62" y="752.47" font-size="10.7" text-anchor="end">14%</text>
<text x="273.4" y="752.77" font-size="10.9">NFE2L2</text>
<text x="62" y="769.51" font-size="10.7" text-anchor="end">14%</text>
<text x="273.4" y="769.81" font-size="10.9">EPHA3</text>
<text x="62" y="786.55" font-size="10.7" text-anchor="end">14%</text>
<text x="273.4" y="786.85" font-size="10.9">KMT2D</text>
<text x="62" y="803.59" font-size="10.7" text-anchor="end">14%</text>
<text x="273.4" y="803.89" font-size="10.9">MSN</text>
<text x="62" y="820.63" font-size="10.7" text-anchor="end">14%</text>
<text x="273.4" y="820.93" font-size="10.9">NTRK1</text>
<text x="62" y="837.67" font-size="10.7" text-anchor="end">14%</text>
<text x="273.4" y="837.97" font-size="10.9">BRCA2</text>
<text x="62" y="854.71" font-size="10.7" text-anchor="end">14%</text>
<text x="273.4" y="855.01" font-size="10.9">HIST1H3H</text>
</g>
<g>
<text x="100.47" y="864.2" font-size="10.8" text-anchor="end" transform="rotate(-90 100.47 864.2)">P6562</text>
<text x="113.19" y="864.2" font-size="10.8" text-anchor="end" transform="rotate(-90 113.19 864.2)">P4551</text>
<text x="125.91" y="864.2" font-size="10.8" text-anchor="end" transform="rotate(-90 125.91 864.2)">P8506</text>
<text x="138.63" y="864.2" font-size="10.8" text-anchor="end" transform="rotate(-90 138.63 864.2)">P15057</text>
<text x="151.35" y="864.2" font-size="10.8" text-anchor="end" transform="rotate(-90 151.35 864.2)">P14590</text>
<text x="164.07" y="864.2" font-size="10.8" text-anchor="end" transform="rotate(-90 164.07 864.2)">P13406</text>
<text x="176.8" y="864.2" font-size="10.8" text-anchor="end" transform="rotate(-90 176.8 864.2)">P170340</text>
<text x="189.51" y="864.2" font-size="10.8" text-anchor="end" transform="rotate(-90 189.51 864.2)">P4553</text>
<text x="202.24" y="864.2" font-size="10.8" text-anchor="end" transform="rotate(-90 202.24 864.2)">P4402</text>
<text x="214.95" y="864.2" font-size="10.8" text-anchor="end" transform="rotate(-90 214.95 864.2)">P13857</text>
<text x="227.68" y="864.2" font-size="10.8" text-anchor="end" transform="rotate(-90 227.68 864.2)">P12070</text>
<text x="240.4" y="864.2" font-size="10.8" text-anchor="end" transform="rotate(-90 240.4 864.2)">P11075</text>
<text x="253.12" y="864.2" font-size="10.8" text-anchor="end" transform="rotate(-90 253.12 864.2)">P3877</text>
<text x="265.84" y="864.2" font-size="10.8" text-anchor="end" transform="rotate(-90 265.84 864.2)">P14796</text>
</g>
<text x="83.8" y="731.5" font-size="10.9" text-anchor="middle" transform="rotate(-90 83.8 731.5)">genes</text>
<g>
<rect x="91.8" y="574.1" width="9.55" height="7.6" fill="#008b00"/>
<rect x="91.8" y="581.5" width="9.55" height="20.1" fill="#0f4c90"/>
<rect x="104.52" y="571.8" width="9.55" height="12.7" fill="#008b00"/>
<rect x="104.52" y="584.3" width="9.55" height="17.3" fill="#0f4c90"/>
<rect x="117.24" y="581.7" width="9.55" height="7.8" fill="#008b00"/>
<rect x="117.24" y="589.3" width="9.55" height="12.3" fill="#0f4c90"/>
<rect x="129.96" y="556.6" width="9.55" height="13.2" fill="#008b00"/>
<rect x="129.96" y="569.6" width="9.55" height="32" fill="#0f4c90"/>
<rect x="142.68" y="589.3" width="9.55" height="12.3" fill="#0f4c90"/>
<rect x="155.4" y="589.3" width="9.55" height="12.3" fill="#0f4c90"/>
<rect x="168.12" y="574.1" width="9.55" height="1.8" fill="#008b00"/>
<rect x="168.12" y="575.7" width="9.55" height="25.9" fill="#0f4c90"/>
<rect x="180.84" y="569.2" width="9.55" height="15.3" fill="#008b00"/>
<rect x="180.84" y="584.3" width="9.55" height="17.3" fill="#0f4c90"/>
<rect x="193.56" y="589.3" width="9.55" height="4.9" fill="#008b00"/>
<rect x="193.56" y="594" width="9.55" height="7.6" fill="#0f4c90"/>
<rect x="206.28" y="586.7" width="9.55" height="14.9" fill="#0f4c90"/>
<rect x="219" y="569.2" width="9.55" height="5.1" fill="#008b00"/>
<rect x="219" y="574.1" width="9.55" height="27.5" fill="#0f4c90"/>
<rect x="231.72" y="596.6" width="9.55" height="5" fill="#0f4c90"/>
<rect x="244.44" y="559.4" width="9.55" height="13.2" fill="#008b00"/>
<rect x="244.44" y="572.4" width="9.55" height="29.2" fill="#0f4c90"/>
<rect x="257.16" y="594" width="9.55" height="4.4" fill="#008b00"/>
<rect x="257.16" y="598.2" width="9.55" height="3.4" fill="#0f4c90"/>
</g>
<line x1="90.3" y1="601.6" x2="90.3" y2="565.5" stroke="#222" stroke-width="1"/>
<line x1="85.3" y1="601.6" x2="90.3" y2="601.6" stroke="#222" stroke-width="1"/>
<line x1="85.3" y1="589.57" x2="90.3" y2="589.57" stroke="#222" stroke-width="1"/>
<line x1="85.3" y1="577.53" x2="90.3" y2="577.53" stroke="#222" stroke-width="1"/>
<line x1="85.3" y1="565.5" x2="90.3" y2="565.5" stroke="#222" stroke-width="1"/>
<text x="79.2" y="604.8" font-size="9" text-anchor="end">0</text>
<text x="79.2" y="592.77" font-size="9" text-anchor="end">5</text>
<text x="79.2" y="580.73" font-size="9" text-anchor="end">10</text>
<text x="79.2" y="568.7" font-size="9" text-anchor="end">15</text>
<text x="273.4" y="573.5" font-size="10.8">Mutations</text>
<text x="273.4" y="588.2" font-size="10.8">per Mb</text>
<text x="172.6" y="539.6" font-size="20.92" text-anchor="middle">Primary Lesions</text>
<g>
<rect x="448.55" y="604.7" width="9.95" height="15.1" fill="#cbcbcb"/>
<rect x="461.27" y="604.7" width="9.95" height="15.1" fill="#cbcbcb"/>
<rect x="473.99" y="604.7" width="9.95" height="15.1" fill="#d40000"/>
<rect x="486.71" y="604.7" width="9.95" height="15.1" fill="#cbcbcb"/>
<rect x="499.43" y="604.7" width="9.95" height="15.1" fill="#468cd2"/>
<rect x="512.15" y="604.7" width="9.95" height="15.1" fill="#cbcbcb"/>
<rect x="524.87" y="604.7" width="9.95" height="15.1" fill="#cbcbcb"/>
<rect x="537.59" y="604.7" width="9.95" height="15.1" fill="#5b3f99"/>
<rect x="550.31" y="604.7" width="9.95" height="15.1" fill="#468cd2"/>
<rect x="563.03" y="604.7" width="9.95" height="15.1" fill="#ff7f00"/>
<rect x="575.75" y="604.7" width="9.95" height="15.1" fill="#cbcbcb"/>
<rect x="588.47" y="604.7" width="9.95" height="15.1" fill="#468cd2"/>
<rect x="601.19" y="604.7" width="9.95" height="15.1" fill="#468cd2"/>
<rect x="613.91" y="604.7" width="9.95" height="15.1" fill="#cbcbcb"/>
<rect x="448.55" y="621.74" width="9.95" height="15.1" fill="#468cd2"/>
<rect x="461.27" y="621.74" width="9.95" height="15.1" fill="#cbcbcb"/>
<rect x="473.99" y="621.74" width="9.95" height="15.1" fill="#cbcbcb"/>
<rect x="486.71" y="621.74" width="9.95" height="15.1" fill="#cbcbcb"/>
<rect x="499.43" y="621.74" width="9.95" height="15.1" fill="#cbcbcb"/>
<rect x="512.15" y="621.74" width="9.95" height="15.1" fill="#cbcbcb"/>
<rect x="524.87" y="621.74" width="9.95" height="15.1" fill="#cbcbcb"/>
<rect x="537.59" y="621.74" width="9.95" height="15.1" fill="#cbcbcb"/>
<rect x="550.31" y="621.74" width="9.95" height="15.1" fill="#cbcbcb"/>
<rect x="563.03" y="621.74" width="9.95" height="15.1" fill="#cbcbcb"/>
<rect x="575.75" y="621.74" width="9.95" height="15.1" fill="#cbcbcb"/>
<rect x="588.47" y="621.74" width="9.95" height="15.1" fill="#cbcbcb"/>
<rect x="601.19" y="621.74" width="9.95" height="15.1" fill="#cbcbcb"/>
<rect x="613.91" y="621.74" width="9.95" height="15.1" fill="#cbcbcb"/>
<rect x="448.55" y="638.78" width="9.95" height="15.1" fill="#cbcbcb"/>
<rect x="461.27" y="638.78" width="9.95" height="15.1" fill="#cbcbcb"/>
<rect x="473.99" y="638.78" width="9.95" height="15.1" fill="#cbcbcb"/>
<rect x="486.71" y="638.78" width="9.95" height="15.1" fill="#cbcbcb"/>
<rect x="499.43" y="638.78" width="9.95" height="15.1" fill="#cbcbcb"/>
<rect x="512.15" y="638.78" width="9.95" height="15.1" fill="#cbcbcb"/>
<rect x="524.87" y="638.78" width="9.95" height="15.1" fill="#cbcbcb"/>
<rect x="537.59" y="638.78" width="9.95" height="15.1" fill="#cbcbcb"/>
<rect x="550.31" y="638.78" width="9.95" height="15.1" fill="#cbcbcb"/>
<rect x="563.03" y="638.78" width="9.95" height="15.1" fill="#cbcbcb"/>
<rect x="575.75" y="638.78" width="9.95" height="15.1" fill="#cbcbcb"/>
<rect x="588.47" y="638.78" width="9.95" height="15.1" fill="#cbcbcb"/>
<rect x="601.19" y="638.78" width="9.95" height="15.1" fill="#cbcbcb"/>
<rect x="613.91" y="638.78" width="9.95" height="15.1" fill="#cbcbcb"/>
<rect x="448.55" y="655.82" width="9.95" height="15.1" fill="#cbcbcb"/>
<rect x="461.27" y="655.82" width="9.95" height="15.1" fill="#cbcbcb"/>
<rect x="473.99" y="655.82" width="9.95" height="15.1" fill="#cbcbcb"/>
<rect x="486.71" y="655.82" width="9.95" height="15.1" fill="#cbcbcb"/>
<rect x="499.43" y="655.82" width="9.95" height="15.1" fill="#cbcbcb"/>
<rect x="512.15" y="655.82" width="9.95" height="15.1" fill="#cbcbcb"/>
<rect x="524.87" y="655.82" width="9.95" height="15.1" fill="#cbcbcb"/>
<rect x="537.59" y="655.82" width="9.95" height="15.1" fill="#cbcbcb"/>
<rect x="550.31" y="655.82" width="9.95" height="15.1" fill="#cbcbcb"/>
<rect x="563.03" y="655.82" width="9.95" height="15.1" fill="#cbcbcb"/>
<rect x="575.75" y="655.82" width="9.95" height="15.1" fill="#cbcbcb"/>
<rect x="588.47" y="655.82" width="9.95" height="15.1" fill="#cbcbcb"/>
<rect x="601.19" y="655.82" width="9.95" height="15.1" fill="#cbcbcb"/>
<rect x="613.91" y="655.82" width="9.95" height="15.1" fill="#cbcbcb"/>
<rect x="448.55" y="672.86" width="9.95" height="15.1" fill="#cbcbcb"/>
<rect x="461.27" y="672.86" width="9.95" height="15.1" fill="#cbcbcb"/>
<rect x="473.99" y="672.86" width="9.95" height="15.1" fill="#cbcbcb"/>
<rect x="486.71" y="672.86" width="9.95" height="15.1" fill="#cbcbcb"/>
<rect x="499.43" y="672.86" width="9.95" height="15.1" fill="#cbcbcb"/>
<rect x="512.15" y="672.86" width="9.95" height="15.1" fill="#cbcbcb"/>
<rect x="524.87" y="672.86" width="9.95" height="15.1" fill="#cbcbcb"/>
<rect x="537.59" y="672.86" width="9.95" height="15.1" fill="#cbcbcb"/>
<rect x="550.31" y="672.86" width="9.95" height="15.1" fill="#cbcbcb"/>
<rect x="563.03" y="672.86" width="9.95" height="15.1" fill="#cbcbcb"/>
<rect x="575.75" y="672.86" width="9.95" height="15.1" fill="#cbcbcb"/>
<rect x="588.47" y="672.86" width="9.95" height="15.1" fill="#cbcbcb"/>
<rect x="601.19" y="672.86" width="9.95" height="15.1" fill="#cbcbcb"/>
<rect x="613.91" y="672.86" width="9.95" height="15.1" fill="#cbcbcb"/>
<rect x="448.55" y="689.9" width="9.95" height="15.1" fill="#cbcbcb"/>
<rect x="461.27" y="689.9" width="9.95" height="15.1" fill="#cbcbcb"/>
<rect x="473.99" y="689.9" width="9.95" height="15.1" fill="#cbcbcb"/>
<rect x="486.71" y="689.9" width="9.95" height="15.1" fill="#cbcbcb"/>
<rect x="499.43" y="689.9" width="9.95" height="15.1" fill="#cbcbcb"/>
<rect x="512.15" y="689.9" width="9.95" height="15.1" fill="#cbcbcb"/>
<rect x="524.87" y="689.9" width="9.95" height="15.1" fill="#cbcbcb"/>
<rect x="537.59" y="689.9" width="9.95" height="15.1" fill="#cbcbcb"/>
<rect x="550.31" y="689.9" width="9.95" height="15.1" fill="#cbcbcb"/>
<rect x="563.03" y="689.9" width="9.95" height="15.1" fill="#cbcbcb"/>
<rect x="575.75" y="689.9" width="9.95" height="15.1" fill="#cbcbcb"/>
<rect x="588.47" y="689.9" width="9.95" height="15.1" fill="#cbcbcb"/>
<rect x="601.19" y="689.9" width="9.95" height="15.1" fill="#cbcbcb"/>
<rect x="613.91" y="689.9" width="9.95" height="15.1" fill="#cbcbcb"/>
<rect x="448.55" y="706.94" width="9.95" height="15.1" fill="#cbcbcb"/>
<rect x="461.27" y="706.94" width="9.95" height="15.1" fill="#cbcbcb"/>
<rect x="473.99" y="706.94" width="9.95" height="15.1" fill="#cbcbcb"/>
<rect x="486.71" y="706.94" width="9.95" height="15.1" fill="#cbcbcb"/>
<rect x="499.43" y="706.94" width="9.95" height="15.1" fill="#cbcbcb"/>
<rect x="512.15" y="706.94" width="9.95" height="15.1" fill="#cbcbcb"/>
<rect x="524.87" y="706.94" width="9.95" height="15.1" fill="#cbcbcb"/>
<rect x="537.59" y="706.94" width="9.95" height="15.1" fill="#cbcbcb"/>
<rect x="550.31" y="706.94" width="9.95" height="15.1" fill="#cbcbcb"/>
<rect x="563.03" y="706.94" width="9.95" height="15.1" fill="#cbcbcb"/>
<rect x="575.75" y="706.94" width="9.95" height="15.1" fill="#cbcbcb"/>
<rect x="588.47" y="706.94" width="9.95" height="15.1" fill="#cbcbcb"/>
<rect x="601.19" y="706.94" width="9.95" height="15.1" fill="#cbcbcb"/>
<rect x="613.91" y="706.94" width="9.95" height="15.1" fill="#cbcbcb"/>
<rect x="448.55" y="723.98" width="9.95" height="15.1" fill="#cbcbcb"/>
<rect x="461.27" y="723.98" width="9.95" height="15.1" fill="#cbcbcb"/>
<rect x="473.99" y="723.98" width="9.95" height="15.1" fill="#cbcbcb"/>
<rect x="486.71" y="723.98" width="9.95" height="15.1" fill="#cbcbcb"/>
<rect x="499.43" y="723.98" width="9.95" height="15.1" fill="#cbcbcb"/>
<rect x="512.15" y="723.98" width="9.95" height="15.1" fill="#cbcbcb"/>
<rect x="524.87" y="723.98" width="9.95" height="15.1" fill="#cbcbcb"/>
<rect x="537.59" y="723.98" width="9.95" height="15.1" fill="#cbcbcb"/>
<rect x="550.31" y="723.98" width="9.95" height="15.1" fill="#cbcbcb"/>
<rect x="563.03" y="723.98" width="9.95" height="15.1" fill="#cbcbcb"/>
<rect x="575.75" y="723.98" width="9.95" height="15.1" fill="#cbcbcb"/>
<rect x="588.47" y="723.98" width="9.95" height="15.1" fill="#cbcbcb"/>
<rect x="601.19" y="723.98" width="9.95" height="15.1" fill="#cbcbcb"/>
<rect x="613.91" y="723.98" width="9.95" height="15.1" fill="#cbcbcb"/>
<rect x="448.55" y="741.02" width="9.95" height="15.1" fill="#cbcbcb"/>
<rect x="461.27" y="741.02" width="9.95" height="15.1" fill="#cbcbcb"/>
<rect x="473.99" y="741.02" width="9.95" height="15.1" fill="#cbcbcb"/>
<rect x="486.71" y="741.02" width="9.95" height="15.1" fill="#cbcbcb"/>
<rect x="499.43" y="741.02" width="9.95" height="15.1" fill="#468cd2"/>
<rect x="512.15" y="741.02" width="9.95" height="15.1" fill="#cbcbcb"/>
<rect x="524.87" y="741.02" width="9.95" height="15.1" fill="#cbcbcb"/>
<rect x="537.59" y="741.02" width="9.95" height="15.1" fill="#cbcbcb"/>
<rect x="550.31" y="741.02" width="9.95" height="15.1" fill="#cbcbcb"/>
<rect x="563.03" y="741.02" width="9.95" height="15.1" fill="#cbcbcb"/>
<rect x="575.75" y="741.02" width="9.95" height="15.1" fill="#cbcbcb"/>
<rect x="588.47" y="741.02" width="9.95" height="15.1" fill="#cbcbcb"/>
<rect x="601.19" y="741.02" width="9.95" height="15.1" fill="#cbcbcb"/>
<rect x="613.91" y="741.02" width="9.95" height="15.1" fill="#cbcbcb"/>
<rect x="448.55" y="758.06" width="9.95" height="15.1" fill="#cbcbcb"/>
<rect x="461.27" y="758.06" width="9.95" height="15.1" fill="#cbcbcb"/>
<rect x="473.99" y="758.06" width="9.95" height="15.1" fill="#cbcbcb"/>
<rect x="486.71" y="758.06" width="9.95" height="15.1" fill="#cbcbcb"/>
<rect x="499.43" y="758.06" width="9.95" height="15.1" fill="#cbcbcb"/>
<rect x="512.15" y="758.06" width="9.95" height="15.1" fill="#cbcbcb"/>
<rect x="524.87" y="758.06" width="9.95" height="15.1" fill="#cbcbcb"/>
<rect x="537.59" y="758.06" width="9.95" height="15.1" fill="#cbcbcb"/>
<rect x="550.31" y="758.06" width="9.95" height="15.1" fill="#cbcbcb"/>
<rect x="563.03" y="758.06" width="9.95" height="15.1" fill="#cbcbcb"/>
<rect x="575.75" y="758.06" width="9.95" height="15.1" fill="#cbcbcb"/>
<rect x="588.47" y="758.06" width="9.95" height="15.1" fill="#cbcbcb"/>
<rect x="601.19" y="758.06" width="9.95" height="15.1" fill="#008a00"/>
<rect x="613.91" y="758.06" width="9.95" height="15.1" fill="#cbcbcb"/>
<rect x="448.55" y="775.1" width="9.95" height="15.1" fill="#cbcbcb"/>
<rect x="461.27" y="775.1" width="9.95" height="15.1" fill="#cbcbcb"/>
<rect x="473.99" y="775.1" width="9.95" height="15.1" fill="#cbcbcb"/>
<rect x="486.71" y="775.1" width="9.95" height="15.1" fill="#cbcbcb"/>
<rect x="499.43" y="775.1" width="9.95" height="15.1" fill="#cbcbcb"/>
<rect x="512.15" y="775.1" width="9.95" height="15.1" fill="#cbcbcb"/>
<rect x="524.87" y="775.1" width="9.95" height="15.1" fill="#cbcbcb"/>
<rect x="537.59" y="775.1" width="9.95" height="15.1" fill="#cbcbcb"/>
<rect x="550.31" y="775.1" width="9.95" height="15.1" fill="#cbcbcb"/>
<rect x="563.03" y="775.1" width="9.95" height="15.1" fill="#cbcbcb"/>
<rect x="575.75" y="775.1" width="9.95" height="15.1" fill="#cbcbcb"/>
<rect x="588.47" y="775.1" width="9.95" height="15.1" fill="#cbcbcb"/>
<rect x="601.19" y="775.1" width="9.95" height="15.1" fill="#cbcbcb"/>
<rect x="613.91" y="775.1" width="9.95" height="15.1" fill="#cbcbcb"/>
<rect x="448.55" y="792.14" width="9.95" height="15.1" fill="#cbcbcb"/>
<rect x="461.27" y="792.14" width="9.95" height="15.1" fill="#cbcbcb"/>
<rect x="473.99" y="792.14" width="9.95" height="15.1" fill="#cbcbcb"/>
<rect x="486.71" y="792.14" width="9.95" height="15.1" fill="#008a00"/>
<rect x="499.43" y="792.14" width="9.95" height="15.1" fill="#008a00"/>
<rect x="512.15" y="792.14" width="9.95" height="15.1" fill="#008a00"/>
<rect x="524.87" y="792.14" width="9.95" height="15.1" fill="#cbcbcb"/>
<rect x="537.59" y="792.14" width="9.95" height="15.1" fill="#008a00"/>
<rect x="550.31" y="792.14" width="9.95" height="15.1" fill="#cbcbcb"/>
<rect x="563.03" y="792.14" width="9.95" height="15.1" fill="#cbcbcb"/>
<rect x="575.75" y="792.14" width="9.95" height="15.1" fill="#008a00"/>
<rect x="588.47" y="792.14" width="9.95" height="15.1" fill="#cbcbcb"/>
<rect x="601.19" y="792.14" width="9.95" height="15.1" fill="#cbcbcb"/>
<rect x="613.91" y="792.14" width="9.95" height="7.75" fill="#008a00"/>
<rect x="613.91" y="799.69" width="9.95" height="7.55" fill="#468cd2"/>
<rect x="448.55" y="809.18" width="9.95" height="15.1" fill="#cbcbcb"/>
<rect x="461.27" y="809.18" width="9.95" height="15.1" fill="#cbcbcb"/>
<rect x="473.99" y="809.18" width="9.95" height="15.1" fill="#cbcbcb"/>
<rect x="486.71" y="809.18" width="9.95" height="15.1" fill="#cbcbcb"/>
<rect x="499.43" y="809.18" width="9.95" height="15.1" fill="#cbcbcb"/>
<rect x="512.15" y="809.18" width="9.95" height="15.1" fill="#cbcbcb"/>
<rect x="524.87" y="809.18" width="9.95" height="15.1" fill="#cbcbcb"/>
<rect x="537.59" y="809.18" width="9.95" height="15.1" fill="#cbcbcb"/>
<rect x="550.31" y="809.18" width="9.95" height="15.1" fill="#468cd2"/>
<rect x="563.03" y="809.18" width="9.95" height="15.1" fill="#cbcbcb"/>
<rect x="575.75" y="809.18" width="9.95" height="15.1" fill="#cbcbcb"/>
<rect x="588.47" y="809.18" width="9.95" height="15.1" fill="#cbcbcb"/>
<rect x="601.19" y="809.18" width="9.95" height="15.1" fill="#cbcbcb"/>
<rect x="613.91" y="809.18" width="9.95" height="15.1" fill="#cbcbcb"/>
<rect x="448.55" y="826.22" width="9.95" height="15.1" fill="#cbcbcb"/>
<rect x="461.27" y="826.22" width="9.95" height="15.1" fill="#cbcbcb"/>
<rect x="473.99" y="826.22" width="9.95" height="15.1" fill="#cbcbcb"/>
<rect x="486.71" y="826.22" width="9.95" height="15.1" fill="#cbcbcb"/>
<rect x="499.43" y="826.22" width="9.95" height="15.1" fill="#cbcbcb"/>
<rect x="512.15" y="826.22" width="9.95" height="15.1" fill="#cbcbcb"/>
<rect x="524.87" y="826.22" width="9.95" height="15.1" fill="#cbcbcb"/>
<rect x="537.59" y="826.22" width="9.95" height="15.1" fill="#cbcbcb"/>
<rect x="550.31" y="826.22" width="9.95" height="15.1" fill="#cbcbcb"/>
<rect x="563.03" y="826.22" width="9.95" height="15.1" fill="#cbcbcb"/>
<rect x="575.75" y="826.22" width="9.95" height="15.1" fill="#cbcbcb"/>
<rect x="588.47" y="826.22" width="9.95" height="15.1" fill="#cbcbcb"/>
<rect x="601.19" y="826.22" width="9.95" height="15.1" fill="#cbcbcb"/>
<rect x="613.91" y="826.22" width="9.95" height="15.1" fill="#cbcbcb"/>
<rect x="448.55" y="843.26" width="9.95" height="15.1" fill="#cbcbcb"/>
<rect x="461.27" y="843.26" width="9.95" height="15.1" fill="#cbcbcb"/>
<rect x="473.99" y="843.26" width="9.95" height="15.1" fill="#cbcbcb"/>
<rect x="486.71" y="843.26" width="9.95" height="15.1" fill="#cbcbcb"/>
<rect x="499.43" y="843.26" width="9.95" height="15.1" fill="#cbcbcb"/>
<rect x="512.15" y="843.26" width="9.95" height="15.1" fill="#cbcbcb"/>
<rect x="524.87" y="843.26" width="9.95" height="15.1" fill="#cbcbcb"/>
<rect x="537.59" y="843.26" width="9.95" height="15.1" fill="#cbcbcb"/>
<rect x="550.31" y="843.26" width="9.95" height="15.1" fill="#cbcbcb"/>
<rect x="563.03" y="843.26" width="9.95" height="15.1" fill="#cbcbcb"/>
<rect x="575.75" y="843.26" width="9.95" height="15.1" fill="#cbcbcb"/>
<rect x="588.47" y="843.26" width="9.95" height="15.1" fill="#cbcbcb"/>
<rect x="601.19" y="843.26" width="9.95" height="15.1" fill="#cbcbcb"/>
<rect x="613.91" y="843.26" width="9.95" height="15.1" fill="#cbcbcb"/>
</g>
<g>
<text x="419" y="616.15" font-size="10.7" text-anchor="end">50%</text>
<text x="630.3" y="616.45" font-size="10.9">TP53</text>
<text x="419" y="633.19" font-size="10.7" text-anchor="end">7%</text>
<text x="630.3" y="633.49" font-size="10.9">PIK3CA</text>
<text x="419" y="650.23" font-size="10.7" text-anchor="end">0%</text>
<text x="630.3" y="650.53" font-size="10.9">MKI67</text>
<text x="419" y="667.27" font-size="10.7" text-anchor="end">0%</text>
<text x="630.3" y="667.57" font-size="10.9">ZNF521</text>
<text x="419" y="684.31" font-size="10.7" text-anchor="end">0%</text>
<text x="630.3" y="684.61" font-size="10.9">CYP2A6</text>
<text x="419" y="701.35" font-size="10.7" text-anchor="end">0%</text>
<text x="630.3" y="701.65" font-size="10.9">BCL6</text>
<text x="419" y="718.39" font-size="10.7" text-anchor="end">0%</text>
<text x="630.3" y="718.69" font-size="10.9">IL21R</text>
<text x="419" y="735.43" font-size="10.7" text-anchor="end">0%</text>
<text x="630.3" y="735.73" font-size="10.9">NUDC</text>
<text x="419" y="752.47" font-size="10.7" text-anchor="end">7%</text>
<text x="630.3" y="752.77" font-size="10.9">NFE2L2</text>
<text x="419" y="769.51" font-size="10.7" text-anchor="end">7%</text>
<text x="630.3" y="769.81" font-size="10.9">EPHA3</text>
<text x="419" y="786.55" font-size="10.7" text-anchor="end">0%</text>
<text x="630.3" y="786.85" font-size="10.9">KMT2D</text>
<text x="419" y="803.59" font-size="10.7" text-anchor="end">43%</text>
<text x="630.3" y="803.89" font-size="10.9">MSN</text>
<text x="419" y="820.63" font-size="10.7" text-anchor="end">7%</text>
<text x="630.3" y="820.93" font-size="10.9">NTRK1</text>
<text x="419" y="837.67" font-size="10.7" text-anchor="end">0%</text>
<text x="630.3" y="837.97" font-size="10.9">BRCA2</text>
<text x="419" y="854.71" font-size="10.7" text-anchor="end">0%</text>
<text x="630.3" y="855.01" font-size="10.9">HIST1H3H</text>
</g>
<g>
<text x="457.43" y="864.2" font-size="10.8" text-anchor="end" transform="rotate(-90 457.43 864.2)">P6562</text>
<text x="470.15" y="864.2" font-size="10.8" text-anchor="end" transform="rotate(-90 470.15 864.2)">P4551</text>
<text x="482.87" y="864.2" font-size="10.8" text-anchor="end" transform="rotate(-90 482.87 864.2)">P8506</text>
<text x="495.59" y="864.2" font-size="10.8" text-anchor="end" transform="rotate(-90 495.59 864.2)">P15057</text>
<text x="508.31" y="864.2" font-size="10.8" text-anchor="end" transform="rotate(-90 508.31 864.2)">P14590</text>
<text x="521.02" y="864.2" font-size="10.8" text-anchor="end" transform="rotate(-90 521.02 864.2)">P13406</text>
<text x="533.75" y="864.2" font-size="10.8" text-anchor="end" transform="rotate(-90 533.75 864.2)">P170340</text>
<text x="546.47" y="864.2" font-size="10.8" text-anchor="end" transform="rotate(-90 546.47 864.2)">P4553</text>
<text x="559.19" y="864.2" font-size="10.8" text-anchor="end" transform="rotate(-90 559.19 864.2)">P4402</text>
<text x="571.9" y="864.2" font-size="10.8" text-anchor="end" transform="rotate(-90 571.9 864.2)">P13857</text>
<text x="584.62" y="864.2" font-size="10.8" text-anchor="end" transform="rotate(-90 584.62 864.2)">P12070</text>
<text x="597.35" y="864.2" font-size="10.8" text-anchor="end" transform="rotate(-90 597.35 864.2)">P11075</text>
<text x="610.07" y="864.2" font-size="10.8" text-anchor="end" transform="rotate(-90 610.07 864.2)">P3877</text>
<text x="622.79" y="864.2" font-size="10.8" text-anchor="end" transform="rotate(-90 622.79 864.2)">P14796</text>
</g>
<text x="440.5" y="731.5" font-size="10.9" text-anchor="middle" transform="rotate(-90 440.5 731.5)">genes</text>
<g>
<rect x="448.75" y="582.6" width="9.55" height="7.3" fill="#008b00"/>
<rect x="448.75" y="589.7" width="9.55" height="11.9" fill="#0f4c90"/>
<rect x="461.47" y="598.4" width="9.55" height="3.4" fill="#008b00"/>
<rect x="474.19" y="556.6" width="9.55" height="23.6" fill="#008b00"/>
<rect x="474.19" y="580" width="9.55" height="21.6" fill="#0f4c90"/>
<rect x="486.91" y="598.4" width="9.55" height="3.4" fill="#008b00"/>
<rect x="499.63" y="566.4" width="9.55" height="13.8" fill="#008b00"/>
<rect x="499.63" y="580" width="9.55" height="21.6" fill="#0f4c90"/>
<rect x="512.35" y="589.1" width="9.55" height="3" fill="#008b00"/>
<rect x="512.35" y="591.9" width="9.55" height="9.7" fill="#0f4c90"/>
<rect x="525.07" y="582.6" width="9.55" height="6.9" fill="#008b00"/>
<rect x="525.07" y="589.3" width="9.55" height="12.3" fill="#0f4c90"/>
<rect x="537.79" y="585.8" width="9.55" height="10.6" fill="#008b00"/>
<rect x="537.79" y="596.2" width="9.55" height="5.4" fill="#0f4c90"/>
<rect x="550.51" y="579.3" width="9.55" height="22.3" fill="#0f4c90"/>
<rect x="563.23" y="579.3" width="9.55" height="10.2" fill="#008b00"/>
<rect x="563.23" y="589.3" width="9.55" height="12.3" fill="#0f4c90"/>
<rect x="575.95" y="556.6" width="9.55" height="16.4" fill="#008b00"/>
<rect x="575.95" y="572.8" width="9.55" height="28.8" fill="#0f4c90"/>
<rect x="588.67" y="585.8" width="9.55" height="6.3" fill="#008b00"/>
<rect x="588.67" y="591.9" width="9.55" height="9.7" fill="#0f4c90"/>
<rect x="601.39" y="566.4" width="9.55" height="13.3" fill="#008b00"/>
<rect x="601.39" y="579.5" width="9.55" height="22.1" fill="#0f4c90"/>
<rect x="614.11" y="566.4" width="9.55" height="13.8" fill="#008b00"/>
<rect x="614.11" y="580" width="9.55" height="21.6" fill="#0f4c90"/>
</g>
<line x1="447.7" y1="601.6" x2="447.7" y2="558.76" stroke="#222" stroke-width="1"/>
<line x1="442.7" y1="601.6" x2="447.7" y2="601.6" stroke="#222" stroke-width="1"/>
<line x1="442.7" y1="595.48" x2="447.7" y2="595.48" stroke="#222" stroke-width="1"/>
<line x1="442.7" y1="589.36" x2="447.7" y2="589.36" stroke="#222" stroke-width="1"/>
<line x1="442.7" y1="583.24" x2="447.7" y2="583.24" stroke="#222" stroke-width="1"/>
<line x1="442.7" y1="577.12" x2="447.7" y2="577.12" stroke="#222" stroke-width="1"/>
<line x1="442.7" y1="571" x2="447.7" y2="571" stroke="#222" stroke-width="1"/>
<line x1="442.7" y1="564.88" x2="447.7" y2="564.88" stroke="#222" stroke-width="1"/>
<line x1="442.7" y1="558.76" x2="447.7" y2="558.76" stroke="#222" stroke-width="1"/>
<text x="437.3" y="604.8" font-size="9" text-anchor="end">0</text>
<text x="437.3" y="592.56" font-size="9" text-anchor="end">4</text>
<text x="437.3" y="580.32" font-size="9" text-anchor="end">8</text>
<text x="437.3" y="568.08" font-size="9" text-anchor="end">12</text>
<text x="630.3" y="573.5" font-size="10.8">Mutations</text>
<text x="630.3" y="588.2" font-size="10.8">per Mb</text>
<text x="537.1" y="544.5" font-size="20.92" text-anchor="middle">LN metastasis lesion</text>
<text x="33.7" y="21.5" font-size="25.5">A</text>
<text x="34" y="527.6" font-size="24.8">B</text>
<text x="284.5" y="925.75" font-size="11" font-weight="bold">Mutation Type</text>
<rect x="285.1" y="930.05" width="8.9" height="8.5" fill="#008a00"/>
<text x="296.4" y="937.9" font-size="10.9">Synonymous</text>
<rect x="285.1" y="940.05" width="8.9" height="8.5" fill="#468cd2"/>
<text x="296.4" y="947.95" font-size="10.9">Missense</text>
<rect x="285.1" y="950.05" width="8.9" height="8.5" fill="#5b3f99"/>
<text x="296.4" y="958" font-size="10.9">Splice site</text>
<rect x="285.1" y="960.05" width="8.9" height="8.5" fill="#ff7f00"/>
<text x="296.4" y="968.05" font-size="10.9">Frame shift</text>
<rect x="285.1" y="970.05" width="8.9" height="8.5" fill="#d40000"/>
<text x="296.4" y="978.1" font-size="10.9">Nonsense</text>
<text x="364.8" y="925.75" font-size="11" font-weight="bold">Mutation per Mb</text>
<rect x="365.4" y="930.05" width="8.9" height="8.5" fill="#008b00"/>
<text x="376.9" y="937.9" font-size="10.9">Synonymous</text>
<rect x="365.4" y="940.05" width="8.9" height="8.5" fill="#0f4c90"/>
<text x="376.9" y="947.95" font-size="10.9">Non-synonymous</text>
</svg>
</body>
</html>
